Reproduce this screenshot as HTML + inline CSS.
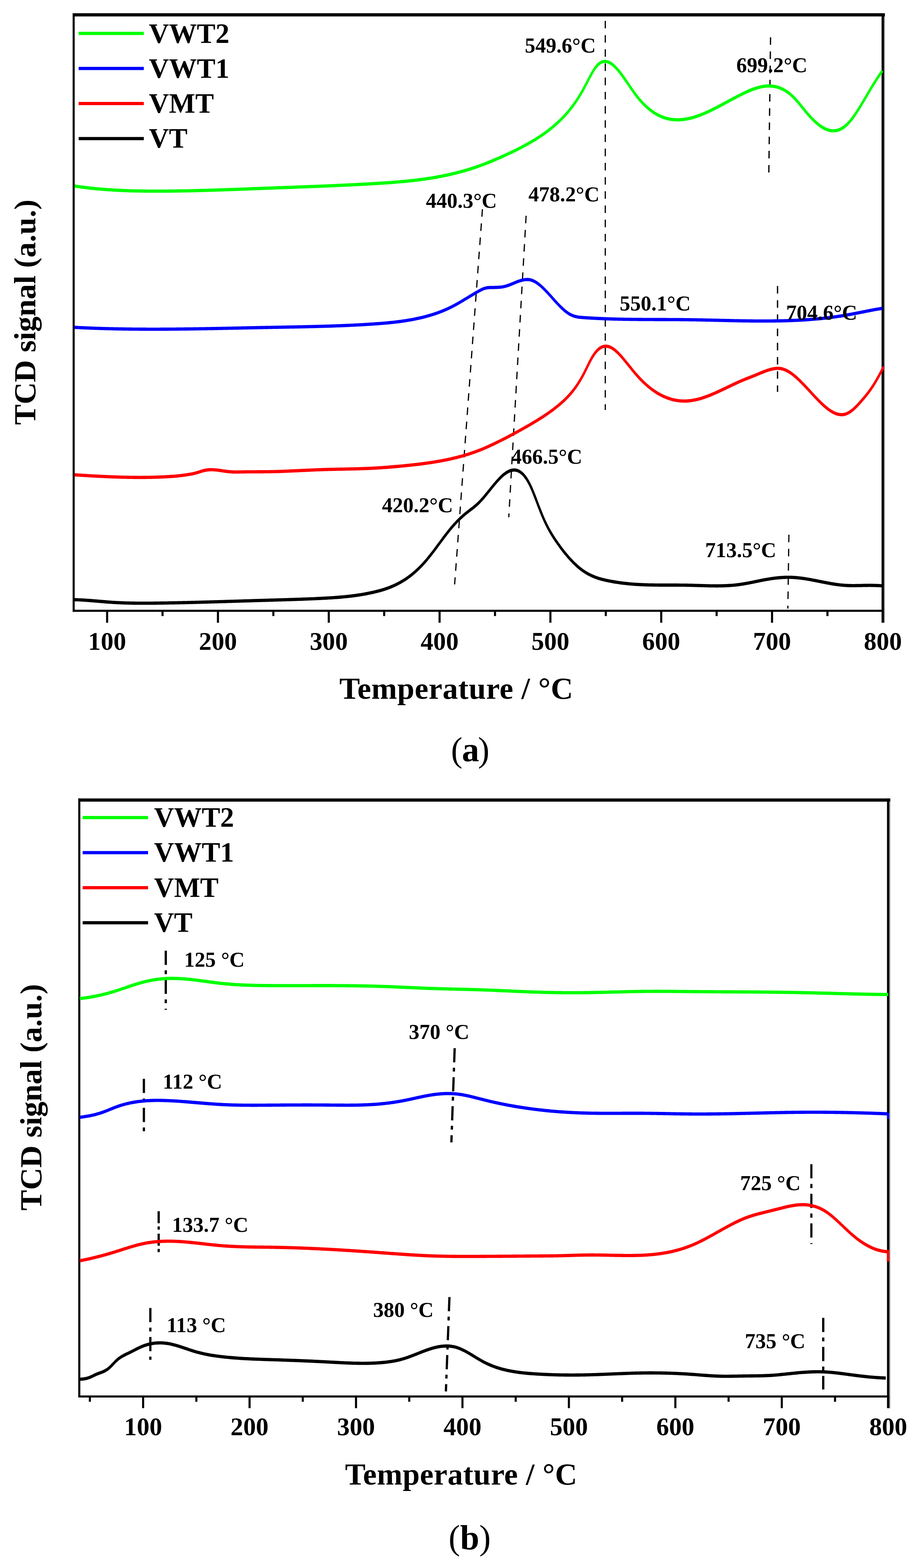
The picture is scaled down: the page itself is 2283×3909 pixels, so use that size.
<!DOCTYPE html>
<html><head><meta charset="utf-8"><title>TPR profiles</title>
<style>html,body{margin:0;padding:0;background:#fff;overflow:hidden;}svg{display:block;}</style>
</head><body>
<svg width="2283" height="3909" viewBox="0 0 2283 3909">
<rect x="0" y="0" width="2283" height="3909" fill="#fff"/>
<rect x="181" y="33" width="2024.5" height="8" fill="#000"/>
<rect x="181" y="33" width="5.2" height="1492.3" fill="#000"/>
<rect x="181" y="1520.1" width="2022" height="5.2" fill="#000"/>
<rect x="2197.2" y="33" width="5.8" height="1492.3" fill="#000"/>
<rect x="2203" y="41" width="2.3" height="1511.3" fill="#8a8a8a"/>
<rect x="264.4" y="1525" width="5.2" height="27.5" fill="#000"/>
<rect x="540.6" y="1525" width="5.2" height="27.5" fill="#000"/>
<rect x="816.8" y="1525" width="5.2" height="27.5" fill="#000"/>
<rect x="1093.0" y="1525" width="5.2" height="27.5" fill="#000"/>
<rect x="1369.2" y="1525" width="5.2" height="27.5" fill="#000"/>
<rect x="1645.4" y="1525" width="5.2" height="27.5" fill="#000"/>
<rect x="1921.6" y="1525" width="5.2" height="27.5" fill="#000"/>
<rect x="402.5" y="1525" width="5.2" height="10.8" fill="#000"/>
<rect x="678.7" y="1525" width="5.2" height="10.8" fill="#000"/>
<rect x="954.9" y="1525" width="5.2" height="10.8" fill="#000"/>
<rect x="1231.1" y="1525" width="5.2" height="10.8" fill="#000"/>
<rect x="1507.3" y="1525" width="5.2" height="10.8" fill="#000"/>
<rect x="1783.5" y="1525" width="5.2" height="10.8" fill="#000"/>
<rect x="2059.7" y="1525" width="5.2" height="10.8" fill="#000"/>
<rect x="2197.2" y="1520" width="5.8" height="32.5" fill="#000"/>
<text x="267.0" y="1620.2" font-size="63.2" font-family="Liberation Serif, Times New Roman, serif" font-weight="bold" text-anchor="middle">100</text>
<text x="543.2" y="1620.2" font-size="63.2" font-family="Liberation Serif, Times New Roman, serif" font-weight="bold" text-anchor="middle">200</text>
<text x="819.4" y="1620.2" font-size="63.2" font-family="Liberation Serif, Times New Roman, serif" font-weight="bold" text-anchor="middle">300</text>
<text x="1095.6" y="1620.2" font-size="63.2" font-family="Liberation Serif, Times New Roman, serif" font-weight="bold" text-anchor="middle">400</text>
<text x="1371.8" y="1620.2" font-size="63.2" font-family="Liberation Serif, Times New Roman, serif" font-weight="bold" text-anchor="middle">500</text>
<text x="1648.0" y="1620.2" font-size="63.2" font-family="Liberation Serif, Times New Roman, serif" font-weight="bold" text-anchor="middle">600</text>
<text x="1924.2" y="1620.2" font-size="63.2" font-family="Liberation Serif, Times New Roman, serif" font-weight="bold" text-anchor="middle">700</text>
<text x="2200.4" y="1620.2" font-size="63.2" font-family="Liberation Serif, Times New Roman, serif" font-weight="bold" text-anchor="middle">800</text>
<line x1="1508.6" y1="52" x2="1508.6" y2="1022" stroke="#000" stroke-width="3" stroke-dasharray="18.8 16.6" stroke-dashoffset="0"/>
<line x1="1920.5" y1="92.9" x2="1916.2" y2="430" stroke="#000" stroke-width="3.2" stroke-dasharray="18.8 16.6" stroke-dashoffset="0"/>
<line x1="1202.4" y1="521.5" x2="1133.1" y2="1457" stroke="#000" stroke-width="3" stroke-dasharray="18.8 16.6" stroke-dashoffset="0"/>
<line x1="1311.3" y1="537.8" x2="1268" y2="1289.5" stroke="#000" stroke-width="3" stroke-dasharray="18.8 16.6" stroke-dashoffset="0"/>
<line x1="1937.9" y1="713" x2="1937.9" y2="977" stroke="#000" stroke-width="3.2" stroke-dasharray="18.8 16.6" stroke-dashoffset="0"/>
<line x1="1966.2" y1="1332.9" x2="1963.6" y2="1517.3" stroke="#000" stroke-width="3" stroke-dasharray="18.8 16.6" stroke-dashoffset="0"/>
<path transform="scale(1,1.5)" d="M185.6,996.71 L188.6,996.75 L191.6,996.81 L194.6,996.88 L197.6,996.96 L200.6,997.05 L203.6,997.16 L206.6,997.27 L209.6,997.39 L212.6,997.51 L215.6,997.65 L218.6,997.79 L221.6,997.94 L224.6,998.09 L227.6,998.25 L230.6,998.41 L233.6,998.57 L236.6,998.74 L239.6,998.91 L242.6,999.08 L245.6,999.25 L248.6,999.42 L251.6,999.60 L254.6,999.77 L257.6,999.93 L260.6,1000.10 L263.6,1000.26 L266.6,1000.42 L269.6,1000.57 L272.6,1000.72 L275.6,1000.86 L278.6,1000.99 L281.6,1001.12 L284.6,1001.24 L287.6,1001.36 L290.6,1001.47 L293.6,1001.57 L296.6,1001.67 L299.6,1001.76 L302.6,1001.84 L305.6,1001.92 L308.6,1002.00 L311.6,1002.06 L314.6,1002.13 L317.6,1002.19 L320.6,1002.24 L323.6,1002.29 L326.6,1002.33 L329.6,1002.37 L332.6,1002.40 L335.6,1002.43 L338.6,1002.46 L341.6,1002.48 L344.6,1002.50 L347.6,1002.51 L350.6,1002.52 L353.6,1002.53 L356.6,1002.53 L359.6,1002.54 L362.6,1002.53 L365.6,1002.53 L368.6,1002.52 L371.6,1002.51 L374.6,1002.49 L377.6,1002.48 L380.6,1002.46 L383.6,1002.44 L386.6,1002.42 L389.6,1002.40 L392.6,1002.37 L395.6,1002.34 L398.6,1002.31 L401.6,1002.28 L404.6,1002.25 L407.6,1002.22 L410.6,1002.19 L413.6,1002.15 L416.6,1002.12 L419.6,1002.08 L422.6,1002.05 L425.6,1002.01 L428.6,1001.97 L431.6,1001.94 L434.6,1001.90 L437.6,1001.86 L440.6,1001.82 L443.6,1001.77 L446.6,1001.73 L449.6,1001.69 L452.6,1001.65 L455.6,1001.60 L458.6,1001.56 L461.6,1001.51 L464.6,1001.46 L467.6,1001.42 L470.6,1001.37 L473.6,1001.32 L476.6,1001.27 L479.6,1001.22 L482.6,1001.17 L485.6,1001.12 L488.6,1001.07 L491.6,1001.02 L494.6,1000.97 L497.6,1000.92 L500.6,1000.87 L503.6,1000.81 L506.6,1000.76 L509.6,1000.70 L512.6,1000.65 L515.6,1000.60 L518.6,1000.54 L521.6,1000.48 L524.6,1000.43 L527.6,1000.37 L530.6,1000.32 L533.6,1000.26 L536.6,1000.20 L539.6,1000.14 L542.6,1000.08 L545.6,1000.03 L548.6,999.97 L551.6,999.91 L554.6,999.85 L557.6,999.79 L560.6,999.73 L563.6,999.67 L566.6,999.61 L569.6,999.55 L572.6,999.49 L575.6,999.43 L578.6,999.37 L581.6,999.31 L584.6,999.25 L587.6,999.19 L590.6,999.13 L593.6,999.07 L596.6,999.01 L599.6,998.95 L602.6,998.88 L605.6,998.82 L608.6,998.76 L611.6,998.70 L614.6,998.64 L617.6,998.58 L620.6,998.52 L623.6,998.46 L626.6,998.40 L629.6,998.34 L632.6,998.28 L635.6,998.21 L638.6,998.15 L641.6,998.09 L644.6,998.03 L647.6,997.97 L650.6,997.91 L653.6,997.85 L656.6,997.80 L659.6,997.74 L662.6,997.68 L665.6,997.62 L668.6,997.56 L671.6,997.50 L674.6,997.44 L677.6,997.39 L680.6,997.33 L683.6,997.27 L686.6,997.21 L689.6,997.16 L692.6,997.10 L695.6,997.04 L698.6,996.98 L701.6,996.92 L704.6,996.87 L707.6,996.81 L710.6,996.75 L713.6,996.69 L716.6,996.63 L719.6,996.56 L722.6,996.50 L725.6,996.44 L728.6,996.38 L731.6,996.31 L734.6,996.25 L737.6,996.18 L740.6,996.11 L743.6,996.05 L746.6,995.98 L749.6,995.91 L752.6,995.83 L755.6,995.76 L758.6,995.69 L761.6,995.61 L764.6,995.53 L767.6,995.46 L770.6,995.38 L773.6,995.29 L776.6,995.21 L779.6,995.13 L782.6,995.04 L785.6,994.95 L788.6,994.86 L791.6,994.77 L794.6,994.67 L797.6,994.57 L800.6,994.48 L803.6,994.38 L806.6,994.27 L809.6,994.17 L812.6,994.06 L815.6,993.94 L818.6,993.83 L821.6,993.71 L824.6,993.58 L827.6,993.45 L830.6,993.32 L833.6,993.18 L836.6,993.04 L839.6,992.89 L842.6,992.73 L845.6,992.57 L848.6,992.40 L851.6,992.23 L854.6,992.05 L857.6,991.86 L860.6,991.66 L863.6,991.46 L866.6,991.25 L869.6,991.03 L872.6,990.80 L875.6,990.56 L878.6,990.31 L881.6,990.06 L884.6,989.79 L887.6,989.52 L890.6,989.23 L893.6,988.93 L896.6,988.63 L899.6,988.31 L902.6,987.98 L905.6,987.64 L908.6,987.28 L911.6,986.92 L914.6,986.54 L917.6,986.15 L920.6,985.74 L923.6,985.33 L926.6,984.90 L929.6,984.45 L932.6,983.99 L935.6,983.52 L938.6,983.03 L941.6,982.52 L944.6,981.99 L947.6,981.45 L950.6,980.87 L953.6,980.28 L956.6,979.66 L959.6,979.02 L962.6,978.34 L965.6,977.64 L968.6,976.91 L971.6,976.14 L974.6,975.34 L977.6,974.51 L980.6,973.64 L983.6,972.73 L986.6,971.79 L989.6,970.80 L992.6,969.77 L995.6,968.70 L998.6,967.59 L1001.6,966.43 L1004.6,965.22 L1007.6,963.96 L1010.6,962.66 L1013.6,961.30 L1016.6,959.89 L1019.6,958.44 L1022.6,956.92 L1025.6,955.36 L1028.6,953.74 L1031.6,952.06 L1034.6,950.32 L1037.6,948.53 L1040.6,946.68 L1043.6,944.76 L1046.6,942.78 L1049.6,940.75 L1052.6,938.64 L1055.6,936.47 L1058.6,934.24 L1061.6,931.94 L1064.6,929.57 L1067.6,927.14 L1070.6,924.65 L1073.6,922.12 L1076.6,919.54 L1079.6,916.92 L1082.6,914.28 L1085.6,911.61 L1088.6,908.92 L1091.6,906.22 L1094.6,903.51 L1097.6,900.80 L1100.6,898.10 L1103.6,895.42 L1106.6,892.75 L1109.6,890.11 L1112.6,887.50 L1115.6,884.92 L1118.6,882.39 L1121.6,879.92 L1124.6,877.49 L1127.6,875.13 L1130.6,872.84 L1133.6,870.62 L1136.6,868.46 L1139.6,866.36 L1142.6,864.33 L1145.6,862.37 L1148.6,860.47 L1151.6,858.63 L1154.6,856.85 L1157.6,855.14 L1160.6,853.49 L1163.6,851.90 L1166.6,850.35 L1169.6,848.82 L1172.6,847.29 L1175.6,845.76 L1178.6,844.19 L1181.6,842.59 L1184.6,840.92 L1187.6,839.18 L1190.6,837.34 L1193.6,835.39 L1196.6,833.33 L1199.6,831.18 L1202.6,828.94 L1205.6,826.63 L1208.6,824.27 L1211.6,821.85 L1214.6,819.40 L1217.6,816.93 L1220.6,814.44 L1223.6,811.96 L1226.6,809.49 L1229.6,807.05 L1232.6,804.64 L1235.6,802.28 L1238.6,799.99 L1241.6,797.77 L1244.6,795.64 L1247.6,793.60 L1250.6,791.68 L1253.6,789.88 L1256.6,788.22 L1259.6,786.70 L1262.6,785.34 L1265.6,784.16 L1268.6,783.15 L1271.6,782.33 L1274.6,781.72 L1277.6,781.32 L1280.6,781.14 L1283.6,781.20 L1286.6,781.51 L1289.6,782.07 L1292.6,782.90 L1295.6,784.00 L1298.6,785.40 L1301.6,787.10 L1304.6,789.10 L1307.6,791.43 L1310.6,794.09 L1313.6,797.10 L1316.6,800.46 L1319.6,804.18 L1322.6,808.28 L1325.6,812.75 L1328.6,817.54 L1331.6,822.56 L1334.6,827.73 L1337.6,833.00 L1340.6,838.27 L1343.6,843.48 L1346.6,848.61 L1349.6,853.60 L1352.6,858.43 L1355.6,863.05 L1358.6,867.44 L1361.6,871.61 L1364.6,875.57 L1367.6,879.34 L1370.6,882.93 L1373.6,886.37 L1376.6,889.66 L1379.6,892.84 L1382.6,895.90 L1385.6,898.87 L1388.6,901.77 L1391.6,904.61 L1394.6,907.39 L1397.6,910.11 L1400.6,912.78 L1403.6,915.38 L1406.6,917.91 L1409.6,920.39 L1412.6,922.80 L1415.6,925.14 L1418.6,927.42 L1421.6,929.64 L1424.6,931.78 L1427.6,933.86 L1430.6,935.86 L1433.6,937.79 L1436.6,939.66 L1439.6,941.44 L1442.6,943.16 L1445.6,944.80 L1448.6,946.36 L1451.6,947.85 L1454.6,949.26 L1457.6,950.59 L1460.6,951.84 L1463.6,953.03 L1466.6,954.14 L1469.6,955.19 L1472.6,956.18 L1475.6,957.11 L1478.6,957.98 L1481.6,958.79 L1484.6,959.56 L1487.6,960.28 L1490.6,960.95 L1493.6,961.58 L1496.6,962.17 L1499.6,962.73 L1502.6,963.25 L1505.6,963.74 L1508.6,964.20 L1511.6,964.64 L1514.6,965.06 L1517.6,965.46 L1520.6,965.85 L1523.6,966.22 L1526.6,966.58 L1529.6,966.92 L1532.6,967.25 L1535.6,967.57 L1538.6,967.88 L1541.6,968.18 L1544.6,968.46 L1547.6,968.73 L1550.6,968.99 L1553.6,969.24 L1556.6,969.48 L1559.6,969.70 L1562.6,969.91 L1565.6,970.12 L1568.6,970.31 L1571.6,970.49 L1574.6,970.66 L1577.6,970.83 L1580.6,970.98 L1583.6,971.12 L1586.6,971.25 L1589.6,971.38 L1592.6,971.49 L1595.6,971.60 L1598.6,971.69 L1601.6,971.78 L1604.6,971.86 L1607.6,971.94 L1610.6,972.01 L1613.6,972.07 L1616.6,972.12 L1619.6,972.17 L1622.6,972.21 L1625.6,972.25 L1628.6,972.28 L1631.6,972.31 L1634.6,972.34 L1637.6,972.36 L1640.6,972.37 L1643.6,972.39 L1646.6,972.40 L1649.6,972.41 L1652.6,972.41 L1655.6,972.42 L1658.6,972.42 L1661.6,972.42 L1664.6,972.42 L1667.6,972.42 L1670.6,972.42 L1673.6,972.42 L1676.6,972.42 L1679.6,972.42 L1682.6,972.43 L1685.6,972.43 L1688.6,972.44 L1691.6,972.44 L1694.6,972.46 L1697.6,972.47 L1700.6,972.49 L1703.6,972.51 L1706.6,972.53 L1709.6,972.56 L1712.6,972.59 L1715.6,972.63 L1718.6,972.68 L1721.6,972.72 L1724.6,972.78 L1727.6,972.83 L1730.6,972.89 L1733.6,972.95 L1736.6,973.01 L1739.6,973.07 L1742.6,973.13 L1745.6,973.20 L1748.6,973.26 L1751.6,973.32 L1754.6,973.38 L1757.6,973.43 L1760.6,973.48 L1763.6,973.53 L1766.6,973.58 L1769.6,973.62 L1772.6,973.65 L1775.6,973.68 L1778.6,973.70 L1781.6,973.71 L1784.6,973.72 L1787.6,973.72 L1790.6,973.71 L1793.6,973.69 L1796.6,973.66 L1799.6,973.61 L1802.6,973.56 L1805.6,973.50 L1808.6,973.42 L1811.6,973.33 L1814.6,973.23 L1817.6,973.11 L1820.6,972.98 L1823.6,972.83 L1826.6,972.67 L1829.6,972.49 L1832.6,972.29 L1835.6,972.08 L1838.6,971.85 L1841.6,971.60 L1844.6,971.33 L1847.6,971.04 L1850.6,970.73 L1853.6,970.40 L1856.6,970.06 L1859.6,969.70 L1862.6,969.33 L1865.6,968.95 L1868.6,968.56 L1871.6,968.16 L1874.6,967.76 L1877.6,967.35 L1880.6,966.93 L1883.6,966.52 L1886.6,966.10 L1889.6,965.69 L1892.6,965.28 L1895.6,964.87 L1898.6,964.47 L1901.6,964.08 L1904.6,963.70 L1907.6,963.32 L1910.6,962.96 L1913.6,962.62 L1916.6,962.29 L1919.6,961.97 L1922.6,961.67 L1925.6,961.39 L1928.6,961.12 L1931.6,960.88 L1934.6,960.65 L1937.6,960.44 L1940.6,960.25 L1943.6,960.08 L1946.6,959.93 L1949.6,959.80 L1952.6,959.69 L1955.6,959.61 L1958.6,959.54 L1961.6,959.50 L1964.6,959.49 L1967.6,959.50 L1970.6,959.54 L1973.6,959.60 L1976.6,959.69 L1979.6,959.80 L1982.6,959.94 L1985.6,960.11 L1988.6,960.29 L1991.6,960.50 L1994.6,960.73 L1997.6,960.99 L2000.6,961.25 L2003.6,961.54 L2006.6,961.84 L2009.6,962.16 L2012.6,962.49 L2015.6,962.83 L2018.6,963.19 L2021.6,963.55 L2024.6,963.93 L2027.6,964.31 L2030.6,964.69 L2033.6,965.09 L2036.6,965.48 L2039.6,965.88 L2042.6,966.28 L2045.6,966.68 L2048.6,967.08 L2051.6,967.48 L2054.6,967.87 L2057.6,968.26 L2060.6,968.64 L2063.6,969.02 L2066.6,969.39 L2069.6,969.75 L2072.6,970.10 L2075.6,970.43 L2078.6,970.76 L2081.6,971.07 L2084.6,971.36 L2087.6,971.64 L2090.6,971.89 L2093.6,972.13 L2096.6,972.35 L2099.6,972.55 L2102.6,972.73 L2105.6,972.88 L2108.6,973.00 L2111.6,973.10 L2114.6,973.18 L2117.6,973.24 L2120.6,973.27 L2123.6,973.29 L2126.6,973.30 L2129.6,973.29 L2132.6,973.27 L2135.6,973.24 L2138.6,973.20 L2141.6,973.16 L2144.6,973.12 L2147.6,973.07 L2150.6,973.02 L2153.6,972.98 L2156.6,972.94 L2159.6,972.91 L2162.6,972.89 L2165.6,972.88 L2168.6,972.88 L2171.6,972.90 L2174.6,972.93 L2177.6,972.98 L2180.6,973.04 L2183.6,973.11 L2186.6,973.19 L2189.6,973.28 L2192.6,973.36 L2195.6,973.45 L2197.8,973.51" fill="none" stroke="#000" stroke-width="5.4" stroke-linejoin="round" stroke-linecap="butt"/>
<path transform="scale(1,1.5)" d="M185.6,789.15 L188.6,789.28 L191.6,789.40 L194.6,789.53 L197.6,789.65 L200.6,789.78 L203.6,789.90 L206.6,790.02 L209.6,790.14 L212.6,790.26 L215.6,790.38 L218.6,790.50 L221.6,790.62 L224.6,790.73 L227.6,790.84 L230.6,790.96 L233.6,791.07 L236.6,791.17 L239.6,791.28 L242.6,791.39 L245.6,791.49 L248.6,791.59 L251.6,791.69 L254.6,791.79 L257.6,791.88 L260.6,791.97 L263.6,792.07 L266.6,792.15 L269.6,792.24 L272.6,792.32 L275.6,792.40 L278.6,792.48 L281.6,792.56 L284.6,792.63 L287.6,792.70 L290.6,792.77 L293.6,792.84 L296.6,792.90 L299.6,792.96 L302.6,793.01 L305.6,793.07 L308.6,793.12 L311.6,793.16 L314.6,793.21 L317.6,793.25 L320.6,793.28 L323.6,793.32 L326.6,793.35 L329.6,793.37 L332.6,793.40 L335.6,793.41 L338.6,793.43 L341.6,793.44 L344.6,793.45 L347.6,793.45 L350.6,793.45 L353.6,793.44 L356.6,793.43 L359.6,793.42 L362.6,793.40 L365.6,793.38 L368.6,793.35 L371.6,793.32 L374.6,793.29 L377.6,793.25 L380.6,793.20 L383.6,793.15 L386.6,793.10 L389.6,793.04 L392.6,792.98 L395.6,792.91 L398.6,792.83 L401.6,792.75 L404.6,792.67 L407.6,792.58 L410.6,792.48 L413.6,792.38 L416.6,792.28 L419.6,792.16 L422.6,792.04 L425.6,791.91 L428.6,791.77 L431.6,791.62 L434.6,791.47 L437.6,791.30 L440.6,791.12 L443.6,790.92 L446.6,790.72 L449.6,790.50 L452.6,790.27 L455.6,790.02 L458.6,789.76 L461.6,789.48 L464.6,789.19 L467.6,788.88 L470.6,788.55 L473.6,788.20 L476.6,787.84 L479.6,787.45 L482.6,787.02 L485.6,786.56 L488.6,786.05 L491.6,785.48 L494.6,784.85 L497.6,784.19 L500.6,783.53 L503.6,782.89 L506.6,782.31 L509.6,781.82 L512.6,781.42 L515.6,781.12 L518.6,780.89 L521.6,780.75 L524.6,780.67 L527.6,780.66 L530.6,780.71 L533.6,780.82 L536.6,780.97 L539.6,781.16 L542.6,781.39 L545.6,781.65 L548.6,781.92 L551.6,782.22 L554.6,782.51 L557.6,782.81 L560.6,783.10 L563.6,783.38 L566.6,783.64 L569.6,783.86 L572.6,784.05 L575.6,784.20 L578.6,784.31 L581.6,784.39 L584.6,784.44 L587.6,784.46 L590.6,784.46 L593.6,784.44 L596.6,784.42 L599.6,784.38 L602.6,784.34 L605.6,784.30 L608.6,784.27 L611.6,784.24 L614.6,784.21 L617.6,784.19 L620.6,784.18 L623.6,784.16 L626.6,784.15 L629.6,784.14 L632.6,784.13 L635.6,784.13 L638.6,784.12 L641.6,784.11 L644.6,784.11 L647.6,784.10 L650.6,784.09 L653.6,784.08 L656.6,784.07 L659.6,784.05 L662.6,784.04 L665.6,784.01 L668.6,783.99 L671.6,783.96 L674.6,783.92 L677.6,783.88 L680.6,783.84 L683.6,783.79 L686.6,783.74 L689.6,783.68 L692.6,783.62 L695.6,783.56 L698.6,783.50 L701.6,783.43 L704.6,783.35 L707.6,783.28 L710.6,783.20 L713.6,783.12 L716.6,783.04 L719.6,782.95 L722.6,782.87 L725.6,782.78 L728.6,782.69 L731.6,782.60 L734.6,782.51 L737.6,782.42 L740.6,782.32 L743.6,782.23 L746.6,782.13 L749.6,782.04 L752.6,781.94 L755.6,781.85 L758.6,781.76 L761.6,781.66 L764.6,781.57 L767.6,781.48 L770.6,781.39 L773.6,781.30 L776.6,781.21 L779.6,781.12 L782.6,781.04 L785.6,780.95 L788.6,780.87 L791.6,780.79 L794.6,780.72 L797.6,780.65 L800.6,780.58 L803.6,780.51 L806.6,780.44 L809.6,780.38 L812.6,780.32 L815.6,780.27 L818.6,780.21 L821.6,780.16 L824.6,780.11 L827.6,780.06 L830.6,780.02 L833.6,779.97 L836.6,779.93 L839.6,779.88 L842.6,779.84 L845.6,779.80 L848.6,779.76 L851.6,779.72 L854.6,779.68 L857.6,779.63 L860.6,779.59 L863.6,779.55 L866.6,779.51 L869.6,779.46 L872.6,779.42 L875.6,779.37 L878.6,779.33 L881.6,779.28 L884.6,779.23 L887.6,779.18 L890.6,779.12 L893.6,779.06 L896.6,779.00 L899.6,778.94 L902.6,778.88 L905.6,778.81 L908.6,778.74 L911.6,778.66 L914.6,778.58 L917.6,778.50 L920.6,778.42 L923.6,778.33 L926.6,778.23 L929.6,778.13 L932.6,778.03 L935.6,777.92 L938.6,777.81 L941.6,777.69 L944.6,777.56 L947.6,777.44 L950.6,777.31 L953.6,777.17 L956.6,777.03 L959.6,776.89 L962.6,776.74 L965.6,776.59 L968.6,776.43 L971.6,776.27 L974.6,776.11 L977.6,775.94 L980.6,775.77 L983.6,775.60 L986.6,775.42 L989.6,775.24 L992.6,775.06 L995.6,774.88 L998.6,774.69 L1001.6,774.50 L1004.6,774.31 L1007.6,774.11 L1010.6,773.91 L1013.6,773.71 L1016.6,773.51 L1019.6,773.30 L1022.6,773.09 L1025.6,772.87 L1028.6,772.65 L1031.6,772.43 L1034.6,772.20 L1037.6,771.96 L1040.6,771.73 L1043.6,771.49 L1046.6,771.24 L1049.6,770.99 L1052.6,770.73 L1055.6,770.47 L1058.6,770.20 L1061.6,769.93 L1064.6,769.65 L1067.6,769.36 L1070.6,769.07 L1073.6,768.78 L1076.6,768.47 L1079.6,768.16 L1082.6,767.84 L1085.6,767.52 L1088.6,767.19 L1091.6,766.84 L1094.6,766.50 L1097.6,766.14 L1100.6,765.77 L1103.6,765.40 L1106.6,765.01 L1109.6,764.62 L1112.6,764.21 L1115.6,763.80 L1118.6,763.37 L1121.6,762.94 L1124.6,762.49 L1127.6,762.03 L1130.6,761.56 L1133.6,761.08 L1136.6,760.59 L1139.6,760.09 L1142.6,759.57 L1145.6,759.04 L1148.6,758.50 L1151.6,757.94 L1154.6,757.37 L1157.6,756.79 L1160.6,756.19 L1163.6,755.58 L1166.6,754.95 L1169.6,754.31 L1172.6,753.66 L1175.6,752.99 L1178.6,752.30 L1181.6,751.60 L1184.6,750.88 L1187.6,750.14 L1190.6,749.39 L1193.6,748.62 L1196.6,747.84 L1199.6,747.03 L1202.6,746.21 L1205.6,745.38 L1208.6,744.53 L1211.6,743.66 L1214.6,742.78 L1217.6,741.89 L1220.6,740.98 L1223.6,740.07 L1226.6,739.13 L1229.6,738.19 L1232.6,737.24 L1235.6,736.27 L1238.6,735.30 L1241.6,734.31 L1244.6,733.32 L1247.6,732.32 L1250.6,731.31 L1253.6,730.29 L1256.6,729.26 L1259.6,728.23 L1262.6,727.20 L1265.6,726.15 L1268.6,725.10 L1271.6,724.05 L1274.6,722.99 L1277.6,721.92 L1280.6,720.85 L1283.6,719.77 L1286.6,718.68 L1289.6,717.59 L1292.6,716.49 L1295.6,715.38 L1298.6,714.27 L1301.6,713.15 L1304.6,712.02 L1307.6,710.88 L1310.6,709.74 L1313.6,708.59 L1316.6,707.44 L1319.6,706.27 L1322.6,705.10 L1325.6,703.92 L1328.6,702.74 L1331.6,701.54 L1334.6,700.33 L1337.6,699.11 L1340.6,697.88 L1343.6,696.64 L1346.6,695.38 L1349.6,694.10 L1352.6,692.81 L1355.6,691.50 L1358.6,690.17 L1361.6,688.82 L1364.6,687.44 L1367.6,686.04 L1370.6,684.62 L1373.6,683.17 L1376.6,681.70 L1379.6,680.19 L1382.6,678.66 L1385.6,677.09 L1388.6,675.50 L1391.6,673.87 L1394.6,672.20 L1397.6,670.50 L1400.6,668.74 L1403.6,666.94 L1406.6,665.07 L1409.6,663.14 L1412.6,661.13 L1415.6,659.04 L1418.6,656.87 L1421.6,654.60 L1424.6,652.24 L1427.6,649.76 L1430.6,647.18 L1433.6,644.47 L1436.6,641.64 L1439.6,638.68 L1442.6,635.58 L1445.6,632.33 L1448.6,628.94 L1451.6,625.38 L1454.6,621.66 L1457.6,617.77 L1460.6,613.73 L1463.6,609.63 L1466.6,605.55 L1469.6,601.56 L1472.6,597.77 L1475.6,594.23 L1478.6,590.99 L1481.6,588.05 L1484.6,585.42 L1487.6,583.10 L1490.6,581.10 L1493.6,579.41 L1496.6,578.03 L1499.6,576.95 L1502.6,576.15 L1505.6,575.64 L1508.6,575.39 L1511.6,575.40 L1514.6,575.67 L1517.6,576.17 L1520.6,576.90 L1523.6,577.86 L1526.6,579.03 L1529.6,580.39 L1532.6,581.93 L1535.6,583.64 L1538.6,585.49 L1541.6,587.47 L1544.6,589.56 L1547.6,591.76 L1550.6,594.03 L1553.6,596.38 L1556.6,598.78 L1559.6,601.21 L1562.6,603.67 L1565.6,606.15 L1568.6,608.63 L1571.6,611.12 L1574.6,613.59 L1577.6,616.03 L1580.6,618.45 L1583.6,620.82 L1586.6,623.14 L1589.6,625.40 L1592.6,627.59 L1595.6,629.72 L1598.6,631.78 L1601.6,633.78 L1604.6,635.72 L1607.6,637.59 L1610.6,639.40 L1613.6,641.15 L1616.6,642.84 L1619.6,644.46 L1622.6,646.02 L1625.6,647.52 L1628.6,648.96 L1631.6,650.34 L1634.6,651.67 L1637.6,652.93 L1640.6,654.13 L1643.6,655.27 L1646.6,656.36 L1649.6,657.39 L1652.6,658.36 L1655.6,659.28 L1658.6,660.13 L1661.6,660.94 L1664.6,661.68 L1667.6,662.37 L1670.6,663.01 L1673.6,663.59 L1676.6,664.12 L1679.6,664.59 L1682.6,665.02 L1685.6,665.38 L1688.6,665.70 L1691.6,665.96 L1694.6,666.18 L1697.6,666.34 L1700.6,666.45 L1703.6,666.51 L1706.6,666.52 L1709.6,666.48 L1712.6,666.39 L1715.6,666.25 L1718.6,666.07 L1721.6,665.83 L1724.6,665.55 L1727.6,665.23 L1730.6,664.86 L1733.6,664.45 L1736.6,664.00 L1739.6,663.51 L1742.6,662.98 L1745.6,662.42 L1748.6,661.82 L1751.6,661.20 L1754.6,660.53 L1757.6,659.84 L1760.6,659.13 L1763.6,658.38 L1766.6,657.61 L1769.6,656.82 L1772.6,656.00 L1775.6,655.17 L1778.6,654.31 L1781.6,653.44 L1784.6,652.55 L1787.6,651.65 L1790.6,650.74 L1793.6,649.81 L1796.6,648.88 L1799.6,647.93 L1802.6,646.98 L1805.6,646.02 L1808.6,645.07 L1811.6,644.10 L1814.6,643.14 L1817.6,642.18 L1820.6,641.22 L1823.6,640.27 L1826.6,639.32 L1829.6,638.38 L1832.6,637.44 L1835.6,636.52 L1838.6,635.61 L1841.6,634.71 L1844.6,633.82 L1847.6,632.96 L1850.6,632.11 L1853.6,631.27 L1856.6,630.46 L1859.6,629.65 L1862.6,628.85 L1865.6,628.06 L1868.6,627.28 L1871.6,626.49 L1874.6,625.70 L1877.6,624.90 L1880.6,624.09 L1883.6,623.28 L1886.6,622.45 L1889.6,621.61 L1892.6,620.78 L1895.6,619.95 L1898.6,619.12 L1901.6,618.32 L1904.6,617.54 L1907.6,616.78 L1910.6,616.06 L1913.6,615.37 L1916.6,614.73 L1919.6,614.14 L1922.6,613.61 L1925.6,613.15 L1928.6,612.77 L1931.6,612.47 L1934.6,612.28 L1937.6,612.19 L1940.6,612.21 L1943.6,612.37 L1946.6,612.65 L1949.6,613.08 L1952.6,613.66 L1955.6,614.38 L1958.6,615.24 L1961.6,616.22 L1964.6,617.32 L1967.6,618.54 L1970.6,619.86 L1973.6,621.29 L1976.6,622.81 L1979.6,624.41 L1982.6,626.09 L1985.6,627.85 L1988.6,629.68 L1991.6,631.56 L1994.6,633.50 L1997.6,635.50 L2000.6,637.53 L2003.6,639.60 L2006.6,641.71 L2009.6,643.84 L2012.6,645.99 L2015.6,648.16 L2018.6,650.33 L2021.6,652.50 L2024.6,654.67 L2027.6,656.83 L2030.6,658.98 L2033.6,661.10 L2036.6,663.19 L2039.6,665.26 L2042.6,667.28 L2045.6,669.25 L2048.6,671.18 L2051.6,673.04 L2054.6,674.84 L2057.6,676.57 L2060.6,678.22 L2063.6,679.78 L2066.6,681.24 L2069.6,682.61 L2072.6,683.86 L2075.6,685.01 L2078.6,686.02 L2081.6,686.91 L2084.6,687.67 L2087.6,688.27 L2090.6,688.73 L2093.6,689.03 L2096.6,689.16 L2099.6,689.13 L2102.6,688.91 L2105.6,688.50 L2108.6,687.90 L2111.6,687.10 L2114.6,686.10 L2117.6,684.90 L2120.6,683.53 L2123.6,681.99 L2126.6,680.31 L2129.6,678.51 L2132.6,676.59 L2135.6,674.57 L2138.6,672.47 L2141.6,670.30 L2144.6,668.09 L2147.6,665.84 L2150.6,663.54 L2153.6,661.19 L2156.6,658.79 L2159.6,656.30 L2162.6,653.74 L2165.6,651.09 L2168.6,648.34 L2171.6,645.49 L2174.6,642.51 L2177.6,639.41 L2180.6,636.17 L2183.6,632.81 L2186.6,629.33 L2189.6,625.74 L2192.6,622.05 L2195.6,618.27 L2198.6,614.40 L2201.6,610.46 L2202.2,609.67" fill="none" stroke="#f00" stroke-width="5.4" stroke-linejoin="round" stroke-linecap="butt"/>
<path transform="scale(1,1.5)" d="M185.6,544.08 L188.6,544.18 L191.6,544.28 L194.6,544.38 L197.6,544.48 L200.6,544.57 L203.6,544.67 L206.6,544.76 L209.6,544.85 L212.6,544.93 L215.6,545.02 L218.6,545.10 L221.6,545.18 L224.6,545.26 L227.6,545.34 L230.6,545.42 L233.6,545.49 L236.6,545.56 L239.6,545.63 L242.6,545.70 L245.6,545.77 L248.6,545.83 L251.6,545.90 L254.6,545.96 L257.6,546.02 L260.6,546.07 L263.6,546.13 L266.6,546.18 L269.6,546.24 L272.6,546.29 L275.6,546.34 L278.6,546.38 L281.6,546.43 L284.6,546.47 L287.6,546.52 L290.6,546.56 L293.6,546.60 L296.6,546.64 L299.6,546.67 L302.6,546.71 L305.6,546.74 L308.6,546.77 L311.6,546.80 L314.6,546.83 L317.6,546.86 L320.6,546.89 L323.6,546.91 L326.6,546.94 L329.6,546.96 L332.6,546.98 L335.6,547.00 L338.6,547.02 L341.6,547.03 L344.6,547.05 L347.6,547.06 L350.6,547.07 L353.6,547.09 L356.6,547.10 L359.6,547.10 L362.6,547.11 L365.6,547.12 L368.6,547.12 L371.6,547.13 L374.6,547.13 L377.6,547.13 L380.6,547.13 L383.6,547.13 L386.6,547.13 L389.6,547.13 L392.6,547.13 L395.6,547.12 L398.6,547.12 L401.6,547.11 L404.6,547.10 L407.6,547.09 L410.6,547.08 L413.6,547.07 L416.6,547.06 L419.6,547.05 L422.6,547.03 L425.6,547.02 L428.6,547.00 L431.6,546.99 L434.6,546.97 L437.6,546.95 L440.6,546.93 L443.6,546.91 L446.6,546.89 L449.6,546.87 L452.6,546.85 L455.6,546.83 L458.6,546.80 L461.6,546.78 L464.6,546.75 L467.6,546.73 L470.6,546.70 L473.6,546.68 L476.6,546.65 L479.6,546.62 L482.6,546.59 L485.6,546.56 L488.6,546.53 L491.6,546.50 L494.6,546.47 L497.6,546.44 L500.6,546.41 L503.6,546.37 L506.6,546.34 L509.6,546.30 L512.6,546.27 L515.6,546.24 L518.6,546.20 L521.6,546.16 L524.6,546.13 L527.6,546.09 L530.6,546.06 L533.6,546.02 L536.6,545.98 L539.6,545.94 L542.6,545.90 L545.6,545.87 L548.6,545.83 L551.6,545.79 L554.6,545.75 L557.6,545.71 L560.6,545.67 L563.6,545.63 L566.6,545.59 L569.6,545.55 L572.6,545.51 L575.6,545.47 L578.6,545.43 L581.6,545.38 L584.6,545.34 L587.6,545.30 L590.6,545.26 L593.6,545.22 L596.6,545.18 L599.6,545.14 L602.6,545.09 L605.6,545.05 L608.6,545.01 L611.6,544.97 L614.6,544.93 L617.6,544.89 L620.6,544.85 L623.6,544.80 L626.6,544.76 L629.6,544.72 L632.6,544.68 L635.6,544.64 L638.6,544.60 L641.6,544.56 L644.6,544.52 L647.6,544.48 L650.6,544.44 L653.6,544.40 L656.6,544.36 L659.6,544.32 L662.6,544.28 L665.6,544.24 L668.6,544.20 L671.6,544.17 L674.6,544.13 L677.6,544.09 L680.6,544.05 L683.6,544.02 L686.6,543.98 L689.6,543.94 L692.6,543.91 L695.6,543.87 L698.6,543.83 L701.6,543.80 L704.6,543.76 L707.6,543.73 L710.6,543.69 L713.6,543.65 L716.6,543.61 L719.6,543.58 L722.6,543.54 L725.6,543.50 L728.6,543.46 L731.6,543.43 L734.6,543.39 L737.6,543.35 L740.6,543.31 L743.6,543.27 L746.6,543.23 L749.6,543.19 L752.6,543.15 L755.6,543.10 L758.6,543.06 L761.6,543.02 L764.6,542.97 L767.6,542.93 L770.6,542.88 L773.6,542.84 L776.6,542.79 L779.6,542.74 L782.6,542.69 L785.6,542.64 L788.6,542.59 L791.6,542.54 L794.6,542.49 L797.6,542.43 L800.6,542.38 L803.6,542.32 L806.6,542.27 L809.6,542.21 L812.6,542.15 L815.6,542.09 L818.6,542.02 L821.6,541.96 L824.6,541.90 L827.6,541.83 L830.6,541.76 L833.6,541.69 L836.6,541.62 L839.6,541.55 L842.6,541.47 L845.6,541.40 L848.6,541.32 L851.6,541.24 L854.6,541.16 L857.6,541.08 L860.6,541.00 L863.6,540.91 L866.6,540.82 L869.6,540.73 L872.6,540.64 L875.6,540.55 L878.6,540.45 L881.6,540.36 L884.6,540.26 L887.6,540.16 L890.6,540.05 L893.6,539.95 L896.6,539.84 L899.6,539.73 L902.6,539.62 L905.6,539.50 L908.6,539.39 L911.6,539.27 L914.6,539.15 L917.6,539.02 L920.6,538.90 L923.6,538.77 L926.6,538.64 L929.6,538.50 L932.6,538.37 L935.6,538.23 L938.6,538.08 L941.6,537.94 L944.6,537.79 L947.6,537.64 L950.6,537.48 L953.6,537.32 L956.6,537.15 L959.6,536.98 L962.6,536.81 L965.6,536.62 L968.6,536.43 L971.6,536.24 L974.6,536.04 L977.6,535.83 L980.6,535.61 L983.6,535.39 L986.6,535.16 L989.6,534.92 L992.6,534.67 L995.6,534.42 L998.6,534.15 L1001.6,533.88 L1004.6,533.59 L1007.6,533.30 L1010.6,532.99 L1013.6,532.68 L1016.6,532.35 L1019.6,532.01 L1022.6,531.66 L1025.6,531.30 L1028.6,530.93 L1031.6,530.55 L1034.6,530.15 L1037.6,529.74 L1040.6,529.31 L1043.6,528.87 L1046.6,528.42 L1049.6,527.96 L1052.6,527.48 L1055.6,526.98 L1058.6,526.47 L1061.6,525.95 L1064.6,525.40 L1067.6,524.85 L1070.6,524.27 L1073.6,523.68 L1076.6,523.07 L1079.6,522.44 L1082.6,521.79 L1085.6,521.12 L1088.6,520.43 L1091.6,519.72 L1094.6,518.99 L1097.6,518.23 L1100.6,517.46 L1103.6,516.65 L1106.6,515.83 L1109.6,514.98 L1112.6,514.10 L1115.6,513.19 L1118.6,512.26 L1121.6,511.31 L1124.6,510.32 L1127.6,509.30 L1130.6,508.26 L1133.6,507.19 L1136.6,506.09 L1139.6,504.97 L1142.6,503.83 L1145.6,502.67 L1148.6,501.50 L1151.6,500.32 L1154.6,499.12 L1157.6,497.91 L1160.6,496.70 L1163.6,495.49 L1166.6,494.27 L1169.6,493.06 L1172.6,491.85 L1175.6,490.64 L1178.6,489.44 L1181.6,488.25 L1184.6,487.08 L1187.6,485.92 L1190.6,484.78 L1193.6,483.65 L1196.6,482.56 L1199.6,481.53 L1202.6,480.59 L1205.6,479.77 L1208.6,479.09 L1211.6,478.58 L1214.6,478.23 L1217.6,478.02 L1220.6,477.90 L1223.6,477.84 L1226.6,477.81 L1229.6,477.79 L1232.6,477.76 L1235.6,477.71 L1238.6,477.65 L1241.6,477.55 L1244.6,477.40 L1247.6,477.21 L1250.6,476.96 L1253.6,476.64 L1256.6,476.24 L1259.6,475.75 L1262.6,475.18 L1265.6,474.53 L1268.6,473.82 L1271.6,473.06 L1274.6,472.26 L1277.6,471.44 L1280.6,470.61 L1283.6,469.78 L1286.6,468.96 L1289.6,468.18 L1292.6,467.44 L1295.6,466.75 L1298.6,466.14 L1301.6,465.60 L1304.6,465.16 L1307.6,464.83 L1310.6,464.62 L1313.6,464.54 L1316.6,464.61 L1319.6,464.84 L1322.6,465.24 L1325.6,465.83 L1328.6,466.61 L1331.6,467.55 L1334.6,468.66 L1337.6,469.92 L1340.6,471.32 L1343.6,472.85 L1346.6,474.50 L1349.6,476.25 L1352.6,478.11 L1355.6,480.05 L1358.6,482.06 L1361.6,484.14 L1364.6,486.28 L1367.6,488.45 L1370.6,490.66 L1373.6,492.89 L1376.6,495.14 L1379.6,497.38 L1382.6,499.61 L1385.6,501.81 L1388.6,503.99 L1391.6,506.12 L1394.6,508.20 L1397.6,510.21 L1400.6,512.15 L1403.6,514.01 L1406.6,515.77 L1409.6,517.42 L1412.6,518.97 L1415.6,520.38 L1418.6,521.67 L1421.6,522.80 L1424.6,523.79 L1427.6,524.62 L1430.6,525.32 L1433.6,525.91 L1436.6,526.38 L1439.6,526.77 L1442.6,527.08 L1445.6,527.32 L1448.6,527.52 L1451.6,527.69 L1454.6,527.83 L1457.6,527.97 L1460.6,528.11 L1463.6,528.24 L1466.6,528.37 L1469.6,528.49 L1472.6,528.61 L1475.6,528.73 L1478.6,528.84 L1481.6,528.95 L1484.6,529.05 L1487.6,529.15 L1490.6,529.25 L1493.6,529.34 L1496.6,529.43 L1499.6,529.52 L1502.6,529.60 L1505.6,529.68 L1508.6,529.76 L1511.6,529.83 L1514.6,529.90 L1517.6,529.97 L1520.6,530.04 L1523.6,530.10 L1526.6,530.16 L1529.6,530.22 L1532.6,530.27 L1535.6,530.32 L1538.6,530.37 L1541.6,530.42 L1544.6,530.46 L1547.6,530.51 L1550.6,530.55 L1553.6,530.58 L1556.6,530.62 L1559.6,530.65 L1562.6,530.68 L1565.6,530.71 L1568.6,530.74 L1571.6,530.77 L1574.6,530.79 L1577.6,530.82 L1580.6,530.84 L1583.6,530.86 L1586.6,530.88 L1589.6,530.90 L1592.6,530.91 L1595.6,530.93 L1598.6,530.94 L1601.6,530.96 L1604.6,530.97 L1607.6,530.98 L1610.6,530.99 L1613.6,531.00 L1616.6,531.01 L1619.6,531.02 L1622.6,531.02 L1625.6,531.03 L1628.6,531.04 L1631.6,531.05 L1634.6,531.05 L1637.6,531.06 L1640.6,531.06 L1643.6,531.07 L1646.6,531.08 L1649.6,531.08 L1652.6,531.09 L1655.6,531.09 L1658.6,531.10 L1661.6,531.11 L1664.6,531.12 L1667.6,531.12 L1670.6,531.13 L1673.6,531.14 L1676.6,531.15 L1679.6,531.16 L1682.6,531.17 L1685.6,531.18 L1688.6,531.20 L1691.6,531.21 L1694.6,531.23 L1697.6,531.24 L1700.6,531.26 L1703.6,531.28 L1706.6,531.30 L1709.6,531.32 L1712.6,531.35 L1715.6,531.37 L1718.6,531.40 L1721.6,531.43 L1724.6,531.45 L1727.6,531.49 L1730.6,531.52 L1733.6,531.55 L1736.6,531.59 L1739.6,531.62 L1742.6,531.66 L1745.6,531.70 L1748.6,531.74 L1751.6,531.78 L1754.6,531.82 L1757.6,531.86 L1760.6,531.91 L1763.6,531.95 L1766.6,532.00 L1769.6,532.04 L1772.6,532.09 L1775.6,532.13 L1778.6,532.18 L1781.6,532.23 L1784.6,532.27 L1787.6,532.32 L1790.6,532.37 L1793.6,532.41 L1796.6,532.46 L1799.6,532.51 L1802.6,532.55 L1805.6,532.60 L1808.6,532.64 L1811.6,532.69 L1814.6,532.74 L1817.6,532.78 L1820.6,532.82 L1823.6,532.87 L1826.6,532.91 L1829.6,532.95 L1832.6,532.99 L1835.6,533.03 L1838.6,533.07 L1841.6,533.11 L1844.6,533.15 L1847.6,533.18 L1850.6,533.22 L1853.6,533.25 L1856.6,533.28 L1859.6,533.31 L1862.6,533.34 L1865.6,533.36 L1868.6,533.39 L1871.6,533.41 L1874.6,533.43 L1877.6,533.45 L1880.6,533.47 L1883.6,533.49 L1886.6,533.50 L1889.6,533.51 L1892.6,533.52 L1895.6,533.53 L1898.6,533.53 L1901.6,533.54 L1904.6,533.53 L1907.6,533.53 L1910.6,533.53 L1913.6,533.52 L1916.6,533.51 L1919.6,533.49 L1922.6,533.48 L1925.6,533.46 L1928.6,533.43 L1931.6,533.41 L1934.6,533.38 L1937.6,533.35 L1940.6,533.31 L1943.6,533.27 L1946.6,533.23 L1949.6,533.18 L1952.6,533.14 L1955.6,533.08 L1958.6,533.03 L1961.6,532.96 L1964.6,532.90 L1967.6,532.83 L1970.6,532.76 L1973.6,532.68 L1976.6,532.60 L1979.6,532.52 L1982.6,532.43 L1985.6,532.34 L1988.6,532.24 L1991.6,532.14 L1994.6,532.03 L1997.6,531.92 L2000.6,531.80 L2003.6,531.68 L2006.6,531.56 L2009.6,531.43 L2012.6,531.29 L2015.6,531.15 L2018.6,531.00 L2021.6,530.85 L2024.6,530.69 L2027.6,530.53 L2030.6,530.36 L2033.6,530.19 L2036.6,530.01 L2039.6,529.82 L2042.6,529.63 L2045.6,529.44 L2048.6,529.23 L2051.6,529.02 L2054.6,528.81 L2057.6,528.58 L2060.6,528.36 L2063.6,528.12 L2066.6,527.88 L2069.6,527.63 L2072.6,527.38 L2075.6,527.12 L2078.6,526.85 L2081.6,526.57 L2084.6,526.29 L2087.6,526.00 L2090.6,525.70 L2093.6,525.40 L2096.6,525.09 L2099.6,524.77 L2102.6,524.44 L2105.6,524.10 L2108.6,523.76 L2111.6,523.41 L2114.6,523.06 L2117.6,522.69 L2120.6,522.32 L2123.6,521.95 L2126.6,521.56 L2129.6,521.18 L2132.6,520.79 L2135.6,520.40 L2138.6,520.00 L2141.6,519.60 L2144.6,519.21 L2147.6,518.81 L2150.6,518.41 L2153.6,518.01 L2156.6,517.61 L2159.6,517.21 L2162.6,516.82 L2165.6,516.43 L2168.6,516.04 L2171.6,515.65 L2174.6,515.27 L2177.6,514.90 L2180.6,514.53 L2183.6,514.17 L2186.6,513.81 L2189.6,513.46 L2192.6,513.12 L2195.6,512.79 L2198.6,512.47 L2199.6,512.36" fill="none" stroke="#00f" stroke-width="5.4" stroke-linejoin="round" stroke-linecap="butt"/>
<path transform="scale(1,1.5)" d="M186.0,309.24 L189.0,309.54 L192.0,309.83 L195.0,310.12 L198.0,310.39 L201.0,310.67 L204.0,310.93 L207.0,311.19 L210.0,311.45 L213.0,311.69 L216.0,311.93 L219.0,312.17 L222.0,312.40 L225.0,312.62 L228.0,312.83 L231.0,313.05 L234.0,313.25 L237.0,313.45 L240.0,313.64 L243.0,313.83 L246.0,314.01 L249.0,314.19 L252.0,314.36 L255.0,314.53 L258.0,314.69 L261.0,314.85 L264.0,315.00 L267.0,315.15 L270.0,315.29 L273.0,315.42 L276.0,315.55 L279.0,315.68 L282.0,315.80 L285.0,315.92 L288.0,316.04 L291.0,316.14 L294.0,316.25 L297.0,316.35 L300.0,316.44 L303.0,316.54 L306.0,316.62 L309.0,316.71 L312.0,316.79 L315.0,316.86 L318.0,316.93 L321.0,317.00 L324.0,317.07 L327.0,317.13 L330.0,317.18 L333.0,317.24 L336.0,317.29 L339.0,317.34 L342.0,317.38 L345.0,317.42 L348.0,317.46 L351.0,317.49 L354.0,317.52 L357.0,317.55 L360.0,317.58 L363.0,317.60 L366.0,317.62 L369.0,317.64 L372.0,317.65 L375.0,317.67 L378.0,317.68 L381.0,317.68 L384.0,317.69 L387.0,317.69 L390.0,317.69 L393.0,317.69 L396.0,317.69 L399.0,317.68 L402.0,317.68 L405.0,317.67 L408.0,317.66 L411.0,317.64 L414.0,317.63 L417.0,317.62 L420.0,317.60 L423.0,317.58 L426.0,317.56 L429.0,317.54 L432.0,317.51 L435.0,317.49 L438.0,317.46 L441.0,317.43 L444.0,317.41 L447.0,317.37 L450.0,317.34 L453.0,317.31 L456.0,317.27 L459.0,317.24 L462.0,317.20 L465.0,317.16 L468.0,317.12 L471.0,317.08 L474.0,317.04 L477.0,316.99 L480.0,316.95 L483.0,316.90 L486.0,316.86 L489.0,316.81 L492.0,316.76 L495.0,316.71 L498.0,316.66 L501.0,316.60 L504.0,316.55 L507.0,316.50 L510.0,316.44 L513.0,316.39 L516.0,316.33 L519.0,316.27 L522.0,316.21 L525.0,316.15 L528.0,316.09 L531.0,316.03 L534.0,315.97 L537.0,315.90 L540.0,315.84 L543.0,315.78 L546.0,315.71 L549.0,315.64 L552.0,315.58 L555.0,315.51 L558.0,315.44 L561.0,315.37 L564.0,315.31 L567.0,315.24 L570.0,315.17 L573.0,315.10 L576.0,315.02 L579.0,314.95 L582.0,314.88 L585.0,314.81 L588.0,314.74 L591.0,314.66 L594.0,314.59 L597.0,314.52 L600.0,314.44 L603.0,314.37 L606.0,314.29 L609.0,314.22 L612.0,314.14 L615.0,314.07 L618.0,313.99 L621.0,313.92 L624.0,313.84 L627.0,313.77 L630.0,313.69 L633.0,313.61 L636.0,313.54 L639.0,313.46 L642.0,313.39 L645.0,313.31 L648.0,313.23 L651.0,313.16 L654.0,313.08 L657.0,313.01 L660.0,312.93 L663.0,312.86 L666.0,312.78 L669.0,312.71 L672.0,312.63 L675.0,312.56 L678.0,312.48 L681.0,312.41 L684.0,312.33 L687.0,312.26 L690.0,312.19 L693.0,312.11 L696.0,312.04 L699.0,311.96 L702.0,311.89 L705.0,311.82 L708.0,311.74 L711.0,311.67 L714.0,311.60 L717.0,311.52 L720.0,311.45 L723.0,311.38 L726.0,311.30 L729.0,311.23 L732.0,311.16 L735.0,311.08 L738.0,311.01 L741.0,310.94 L744.0,310.86 L747.0,310.79 L750.0,310.71 L753.0,310.64 L756.0,310.56 L759.0,310.49 L762.0,310.41 L765.0,310.34 L768.0,310.26 L771.0,310.18 L774.0,310.11 L777.0,310.03 L780.0,309.95 L783.0,309.87 L786.0,309.80 L789.0,309.72 L792.0,309.64 L795.0,309.56 L798.0,309.48 L801.0,309.40 L804.0,309.32 L807.0,309.24 L810.0,309.15 L813.0,309.07 L816.0,308.99 L819.0,308.90 L822.0,308.82 L825.0,308.73 L828.0,308.65 L831.0,308.56 L834.0,308.48 L837.0,308.39 L840.0,308.30 L843.0,308.21 L846.0,308.12 L849.0,308.03 L852.0,307.94 L855.0,307.85 L858.0,307.76 L861.0,307.66 L864.0,307.57 L867.0,307.47 L870.0,307.38 L873.0,307.28 L876.0,307.18 L879.0,307.08 L882.0,306.99 L885.0,306.88 L888.0,306.78 L891.0,306.68 L894.0,306.58 L897.0,306.47 L900.0,306.37 L903.0,306.26 L906.0,306.15 L909.0,306.05 L912.0,305.94 L915.0,305.83 L918.0,305.71 L921.0,305.60 L924.0,305.49 L927.0,305.37 L930.0,305.25 L933.0,305.14 L936.0,305.02 L939.0,304.90 L942.0,304.78 L945.0,304.65 L948.0,304.53 L951.0,304.40 L954.0,304.27 L957.0,304.14 L960.0,304.01 L963.0,303.87 L966.0,303.73 L969.0,303.59 L972.0,303.45 L975.0,303.30 L978.0,303.15 L981.0,303.00 L984.0,302.84 L987.0,302.68 L990.0,302.52 L993.0,302.35 L996.0,302.18 L999.0,302.00 L1002.0,301.82 L1005.0,301.64 L1008.0,301.45 L1011.0,301.26 L1014.0,301.06 L1017.0,300.86 L1020.0,300.66 L1023.0,300.44 L1026.0,300.23 L1029.0,300.01 L1032.0,299.78 L1035.0,299.54 L1038.0,299.31 L1041.0,299.06 L1044.0,298.81 L1047.0,298.56 L1050.0,298.29 L1053.0,298.02 L1056.0,297.75 L1059.0,297.47 L1062.0,297.18 L1065.0,296.88 L1068.0,296.58 L1071.0,296.27 L1074.0,295.96 L1077.0,295.63 L1080.0,295.30 L1083.0,294.96 L1086.0,294.62 L1089.0,294.26 L1092.0,293.90 L1095.0,293.53 L1098.0,293.15 L1101.0,292.76 L1104.0,292.37 L1107.0,291.96 L1110.0,291.55 L1113.0,291.13 L1116.0,290.70 L1119.0,290.26 L1122.0,289.81 L1125.0,289.35 L1128.0,288.88 L1131.0,288.41 L1134.0,287.92 L1137.0,287.42 L1140.0,286.91 L1143.0,286.40 L1146.0,285.87 L1149.0,285.33 L1152.0,284.78 L1155.0,284.22 L1158.0,283.65 L1161.0,283.07 L1164.0,282.47 L1167.0,281.87 L1170.0,281.26 L1173.0,280.63 L1176.0,279.99 L1179.0,279.34 L1182.0,278.68 L1185.0,278.01 L1188.0,277.32 L1191.0,276.62 L1194.0,275.91 L1197.0,275.19 L1200.0,274.45 L1203.0,273.71 L1206.0,272.95 L1209.0,272.18 L1212.0,271.40 L1215.0,270.61 L1218.0,269.81 L1221.0,268.99 L1224.0,268.17 L1227.0,267.34 L1230.0,266.50 L1233.0,265.66 L1236.0,264.80 L1239.0,263.93 L1242.0,263.06 L1245.0,262.18 L1248.0,261.29 L1251.0,260.40 L1254.0,259.50 L1257.0,258.59 L1260.0,257.67 L1263.0,256.75 L1266.0,255.83 L1269.0,254.89 L1272.0,253.95 L1275.0,253.00 L1278.0,252.04 L1281.0,251.07 L1284.0,250.10 L1287.0,249.11 L1290.0,248.11 L1293.0,247.10 L1296.0,246.07 L1299.0,245.04 L1302.0,243.99 L1305.0,242.93 L1308.0,241.85 L1311.0,240.76 L1314.0,239.65 L1317.0,238.53 L1320.0,237.39 L1323.0,236.24 L1326.0,235.06 L1329.0,233.87 L1332.0,232.66 L1335.0,231.43 L1338.0,230.17 L1341.0,228.90 L1344.0,227.60 L1347.0,226.27 L1350.0,224.92 L1353.0,223.54 L1356.0,222.13 L1359.0,220.69 L1362.0,219.21 L1365.0,217.71 L1368.0,216.17 L1371.0,214.60 L1374.0,212.99 L1377.0,211.34 L1380.0,209.66 L1383.0,207.93 L1386.0,206.17 L1389.0,204.36 L1392.0,202.51 L1395.0,200.61 L1398.0,198.67 L1401.0,196.67 L1404.0,194.61 L1407.0,192.49 L1410.0,190.30 L1413.0,188.05 L1416.0,185.72 L1419.0,183.31 L1422.0,180.83 L1425.0,178.26 L1428.0,175.60 L1431.0,172.84 L1434.0,170.00 L1437.0,167.05 L1440.0,164.00 L1443.0,160.84 L1446.0,157.56 L1449.0,154.18 L1452.0,150.67 L1455.0,147.04 L1458.0,143.29 L1461.0,139.46 L1464.0,135.60 L1467.0,131.75 L1470.0,127.97 L1473.0,124.29 L1476.0,120.76 L1479.0,117.44 L1482.0,114.36 L1485.0,111.58 L1488.0,109.14 L1491.0,107.08 L1494.0,105.40 L1497.0,104.08 L1500.0,103.10 L1503.0,102.45 L1506.0,102.13 L1509.0,102.11 L1512.0,102.37 L1515.0,102.92 L1518.0,103.72 L1521.0,104.78 L1524.0,106.06 L1527.0,107.56 L1530.0,109.27 L1533.0,111.16 L1536.0,113.23 L1539.0,115.45 L1542.0,117.81 L1545.0,120.30 L1548.0,122.90 L1551.0,125.59 L1554.0,128.37 L1557.0,131.20 L1560.0,134.09 L1563.0,137.01 L1566.0,139.94 L1569.0,142.88 L1572.0,145.81 L1575.0,148.71 L1578.0,151.57 L1581.0,154.37 L1584.0,157.09 L1587.0,159.72 L1590.0,162.26 L1593.0,164.69 L1596.0,167.04 L1599.0,169.28 L1602.0,171.43 L1605.0,173.49 L1608.0,175.46 L1611.0,177.34 L1614.0,179.13 L1617.0,180.83 L1620.0,182.45 L1623.0,183.98 L1626.0,185.43 L1629.0,186.80 L1632.0,188.09 L1635.0,189.30 L1638.0,190.43 L1641.0,191.49 L1644.0,192.47 L1647.0,193.37 L1650.0,194.21 L1653.0,194.97 L1656.0,195.67 L1659.0,196.30 L1662.0,196.86 L1665.0,197.35 L1668.0,197.78 L1671.0,198.15 L1674.0,198.46 L1677.0,198.71 L1680.0,198.90 L1683.0,199.03 L1686.0,199.11 L1689.0,199.13 L1692.0,199.10 L1695.0,199.02 L1698.0,198.88 L1701.0,198.70 L1704.0,198.47 L1707.0,198.20 L1710.0,197.88 L1713.0,197.52 L1716.0,197.11 L1719.0,196.66 L1722.0,196.18 L1725.0,195.65 L1728.0,195.09 L1731.0,194.50 L1734.0,193.86 L1737.0,193.20 L1740.0,192.50 L1743.0,191.78 L1746.0,191.02 L1749.0,190.23 L1752.0,189.42 L1755.0,188.59 L1758.0,187.72 L1761.0,186.84 L1764.0,185.93 L1767.0,185.01 L1770.0,184.06 L1773.0,183.10 L1776.0,182.11 L1779.0,181.12 L1782.0,180.11 L1785.0,179.08 L1788.0,178.05 L1791.0,177.00 L1794.0,175.95 L1797.0,174.88 L1800.0,173.81 L1803.0,172.74 L1806.0,171.66 L1809.0,170.57 L1812.0,169.49 L1815.0,168.40 L1818.0,167.32 L1821.0,166.24 L1824.0,165.16 L1827.0,164.09 L1830.0,163.02 L1833.0,161.96 L1836.0,160.90 L1839.0,159.86 L1842.0,158.83 L1845.0,157.81 L1848.0,156.80 L1851.0,155.81 L1854.0,154.84 L1857.0,153.89 L1860.0,152.96 L1863.0,152.05 L1866.0,151.17 L1869.0,150.33 L1872.0,149.51 L1875.0,148.73 L1878.0,147.99 L1881.0,147.29 L1884.0,146.63 L1887.0,146.02 L1890.0,145.45 L1893.0,144.93 L1896.0,144.47 L1899.0,144.06 L1902.0,143.71 L1905.0,143.42 L1908.0,143.20 L1911.0,143.04 L1914.0,142.94 L1917.0,142.92 L1920.0,142.97 L1923.0,143.09 L1926.0,143.29 L1929.0,143.58 L1932.0,143.94 L1935.0,144.39 L1938.0,144.93 L1941.0,145.56 L1944.0,146.28 L1947.0,147.10 L1950.0,148.01 L1953.0,149.03 L1956.0,150.14 L1959.0,151.37 L1962.0,152.70 L1965.0,154.14 L1968.0,155.70 L1971.0,157.37 L1974.0,159.15 L1977.0,161.06 L1980.0,163.09 L1983.0,165.23 L1986.0,167.47 L1989.0,169.79 L1992.0,172.17 L1995.0,174.60 L1998.0,177.05 L2001.0,179.52 L2004.0,181.99 L2007.0,184.43 L2010.0,186.84 L2013.0,189.19 L2016.0,191.48 L2019.0,193.70 L2022.0,195.85 L2025.0,197.93 L2028.0,199.93 L2031.0,201.84 L2034.0,203.66 L2037.0,205.38 L2040.0,207.01 L2043.0,208.54 L2046.0,209.96 L2049.0,211.26 L2052.0,212.45 L2055.0,213.53 L2058.0,214.48 L2061.0,215.30 L2064.0,215.99 L2067.0,216.55 L2070.0,216.97 L2073.0,217.25 L2076.0,217.38 L2079.0,217.37 L2082.0,217.20 L2085.0,216.87 L2088.0,216.38 L2091.0,215.73 L2094.0,214.91 L2097.0,213.92 L2100.0,212.75 L2103.0,211.41 L2106.0,209.87 L2109.0,208.16 L2112.0,206.25 L2115.0,204.16 L2118.0,201.91 L2121.0,199.50 L2124.0,196.94 L2127.0,194.25 L2130.0,191.43 L2133.0,188.51 L2136.0,185.48 L2139.0,182.37 L2142.0,179.17 L2145.0,175.92 L2148.0,172.60 L2151.0,169.25 L2154.0,165.86 L2157.0,162.45 L2160.0,159.04 L2163.0,155.62 L2166.0,152.22 L2169.0,148.85 L2172.0,145.51 L2175.0,142.22 L2178.0,138.98 L2181.0,135.80 L2184.0,132.67 L2187.0,129.59 L2190.0,126.57 L2193.0,123.59 L2196.0,120.66 L2199.2,117.59" fill="none" stroke="#0f0" stroke-width="5.4" stroke-linejoin="round" stroke-linecap="butt"/>
<rect x="196" y="79.3" width="162.5" height="8" fill="#0f0"/>
<text x="370.9" y="107.0" font-size="69.5" font-family="Liberation Serif, Times New Roman, serif" font-weight="bold" >VWT2</text>
<rect x="196" y="166.7" width="162.5" height="8" fill="#00f"/>
<text x="370.9" y="194.0" font-size="69.5" font-family="Liberation Serif, Times New Roman, serif" font-weight="bold" >VWT1</text>
<rect x="196" y="254.1" width="162.5" height="8" fill="#f00"/>
<text x="370.9" y="281.0" font-size="69.5" font-family="Liberation Serif, Times New Roman, serif" font-weight="bold" >VMT</text>
<rect x="196" y="341.5" width="162.5" height="8" fill="#000"/>
<text x="370.9" y="368.0" font-size="69.5" font-family="Liberation Serif, Times New Roman, serif" font-weight="bold" >VT</text>
<text x="1307.9" y="130.5" font-size="52.5" font-family="Liberation Serif, Times New Roman, serif" font-weight="bold" >549.6°C</text>
<text x="1835.2" y="179.5" font-size="52.5" font-family="Liberation Serif, Times New Roman, serif" font-weight="bold" >699.2°C</text>
<text x="1061.5" y="517.6" font-size="52.5" font-family="Liberation Serif, Times New Roman, serif" font-weight="bold" >440.3°C</text>
<text x="1317.1" y="502.0" font-size="52.5" font-family="Liberation Serif, Times New Roman, serif" font-weight="bold" >478.2°C</text>
<text x="1544.4" y="773.9" font-size="52.5" font-family="Liberation Serif, Times New Roman, serif" font-weight="bold" >550.1°C</text>
<text x="1959.3" y="797.4" font-size="52.5" font-family="Liberation Serif, Times New Roman, serif" font-weight="bold" >704.6°C</text>
<text x="1274.1" y="1156.1" font-size="52.5" font-family="Liberation Serif, Times New Roman, serif" font-weight="bold" >466.5°C</text>
<text x="952.1" y="1276.5" font-size="52.5" font-family="Liberation Serif, Times New Roman, serif" font-weight="bold" >420.2°C</text>
<text x="1757.6" y="1389.0" font-size="52.5" font-family="Liberation Serif, Times New Roman, serif" font-weight="bold" >713.5°C</text>
<text x="845.8" y="1742.0" font-size="76.9" font-family="Liberation Serif, Times New Roman, serif" font-weight="bold" textLength="582.5" lengthAdjust="spacing">Temperature / °C</text>
<text transform="translate(87.7,1059.2) rotate(-90)" x="0" y="0" font-size="76.6" font-family="Liberation Serif, Times New Roman, serif" font-weight="bold">TCD signal (a.u.)</text>
<text x="1124" y="1898" font-size="86" font-family="Liberation Serif, serif">(<tspan font-weight="bold" dx="-1.5">a</tspan><tspan dx="-3">)</tspan></text>
<rect x="195" y="1990.5" width="2024.0" height="8" fill="#000"/>
<rect x="195" y="1990.5" width="5.2" height="1493.5" fill="#000"/>
<rect x="195" y="3478.8" width="2021.5" height="5.2" fill="#000"/>
<rect x="2210.7" y="1990.5" width="5.8" height="1493.5" fill="#000"/>
<rect x="2216.5" y="1998.5" width="2.3" height="1512.5" fill="#8a8a8a"/>
<rect x="354.1" y="3484" width="5.2" height="26.5" fill="#000"/>
<rect x="619.4" y="3484" width="5.2" height="26.5" fill="#000"/>
<rect x="884.7" y="3484" width="5.2" height="26.5" fill="#000"/>
<rect x="1150.0" y="3484" width="5.2" height="26.5" fill="#000"/>
<rect x="1415.3" y="3484" width="5.2" height="26.5" fill="#000"/>
<rect x="1680.6" y="3484" width="5.2" height="26.5" fill="#000"/>
<rect x="1945.9" y="3484" width="5.2" height="26.5" fill="#000"/>
<rect x="221.4" y="3484" width="5.2" height="10.6" fill="#000"/>
<rect x="486.8" y="3484" width="5.2" height="10.6" fill="#000"/>
<rect x="752.0" y="3484" width="5.2" height="10.6" fill="#000"/>
<rect x="1017.4" y="3484" width="5.2" height="10.6" fill="#000"/>
<rect x="1282.7" y="3484" width="5.2" height="10.6" fill="#000"/>
<rect x="1548.0" y="3484" width="5.2" height="10.6" fill="#000"/>
<rect x="1813.3" y="3484" width="5.2" height="10.6" fill="#000"/>
<rect x="2078.6" y="3484" width="5.2" height="10.6" fill="#000"/>
<rect x="2210.7" y="3479" width="5.8" height="31.5" fill="#000"/>
<text x="356.7" y="3578.3" font-size="63.2" font-family="Liberation Serif, Times New Roman, serif" font-weight="bold" text-anchor="middle">100</text>
<text x="622.0" y="3578.3" font-size="63.2" font-family="Liberation Serif, Times New Roman, serif" font-weight="bold" text-anchor="middle">200</text>
<text x="887.3" y="3578.3" font-size="63.2" font-family="Liberation Serif, Times New Roman, serif" font-weight="bold" text-anchor="middle">300</text>
<text x="1152.6" y="3578.3" font-size="63.2" font-family="Liberation Serif, Times New Roman, serif" font-weight="bold" text-anchor="middle">400</text>
<text x="1417.9" y="3578.3" font-size="63.2" font-family="Liberation Serif, Times New Roman, serif" font-weight="bold" text-anchor="middle">500</text>
<text x="1683.2" y="3578.3" font-size="63.2" font-family="Liberation Serif, Times New Roman, serif" font-weight="bold" text-anchor="middle">600</text>
<text x="1948.5" y="3578.3" font-size="63.2" font-family="Liberation Serif, Times New Roman, serif" font-weight="bold" text-anchor="middle">700</text>
<text x="2213.8" y="3578.3" font-size="63.2" font-family="Liberation Serif, Times New Roman, serif" font-weight="bold" text-anchor="middle">800</text>
<line x1="413.2" y1="2370" x2="413.2" y2="2517.5" stroke="#000" stroke-width="5.6" stroke-dasharray="35.4 13.6 9.5 13.9" stroke-dashoffset="0"/>
<line x1="358.6" y1="2689.4" x2="358.6" y2="2820.4" stroke="#000" stroke-width="5.6" stroke-dasharray="35.4 13.6 9.5 13.9" stroke-dashoffset="0"/>
<line x1="1133.2" y1="2613" x2="1125" y2="2848" stroke="#000" stroke-width="5.6" stroke-dasharray="35.4 13.6 9.5 13.9" stroke-dashoffset="0"/>
<line x1="395.5" y1="3019.4" x2="395.5" y2="3124.7" stroke="#000" stroke-width="5.6" stroke-dasharray="30 8 8 10" stroke-dashoffset="0"/>
<line x1="2022.2" y1="2902.2" x2="2022.2" y2="3101.3" stroke="#000" stroke-width="5.4" stroke-dasharray="35.4 13.9 10.5 14" stroke-dashoffset="0"/>
<line x1="374.7" y1="3260.7" x2="374.7" y2="3390" stroke="#000" stroke-width="5.6" stroke-dasharray="35.4 13.6 9.5 13.9" stroke-dashoffset="0"/>
<line x1="1120.2" y1="3233.5" x2="1111.3" y2="3468.9" stroke="#000" stroke-width="5.6" stroke-dasharray="35.4 13.6 9.5 13.9" stroke-dashoffset="0"/>
<line x1="2051.8" y1="3285.4" x2="2051.8" y2="3464" stroke="#000" stroke-width="5.6" stroke-dasharray="35.4 13.6 9.5 13.9" stroke-dashoffset="0"/>
<path transform="scale(1,1.5)" d="M198.7,2292.30 L201.7,2292.20 L204.7,2292.03 L207.7,2291.81 L210.7,2291.51 L213.7,2291.13 L216.7,2290.66 L219.7,2290.09 L222.7,2289.41 L225.7,2288.62 L228.7,2287.72 L231.7,2286.76 L234.7,2285.77 L237.7,2284.80 L240.7,2283.88 L243.7,2283.06 L246.7,2282.31 L249.7,2281.60 L252.7,2280.88 L255.7,2280.11 L258.7,2279.24 L261.7,2278.22 L264.7,2277.06 L267.7,2275.73 L270.7,2274.20 L273.7,2272.47 L276.7,2270.54 L279.7,2268.46 L282.7,2266.32 L285.7,2264.20 L288.7,2262.16 L291.7,2260.30 L294.7,2258.62 L297.7,2257.10 L300.7,2255.73 L303.7,2254.48 L306.7,2253.33 L309.7,2252.26 L312.7,2251.25 L315.7,2250.28 L318.7,2249.33 L321.7,2248.37 L324.7,2247.39 L327.7,2246.39 L330.7,2245.37 L333.7,2244.35 L336.7,2243.32 L339.7,2242.30 L342.7,2241.30 L345.7,2240.33 L348.7,2239.39 L351.7,2238.49 L354.7,2237.64 L357.7,2236.85 L360.7,2236.12 L363.7,2235.45 L366.7,2234.84 L369.7,2234.28 L372.7,2233.79 L375.7,2233.35 L378.7,2232.97 L381.7,2232.65 L384.7,2232.38 L387.7,2232.17 L390.7,2232.01 L393.7,2231.90 L396.7,2231.84 L399.7,2231.84 L402.7,2231.88 L405.7,2231.98 L408.7,2232.13 L411.7,2232.32 L414.7,2232.56 L417.7,2232.85 L420.7,2233.18 L423.7,2233.56 L426.7,2233.98 L429.7,2234.44 L432.7,2234.94 L435.7,2235.47 L438.7,2236.03 L441.7,2236.61 L444.7,2237.22 L447.7,2237.85 L450.7,2238.49 L453.7,2239.15 L456.7,2239.82 L459.7,2240.50 L462.7,2241.18 L465.7,2241.86 L468.7,2242.54 L471.7,2243.22 L474.7,2243.89 L477.7,2244.54 L480.7,2245.18 L483.7,2245.80 L486.7,2246.40 L489.7,2246.98 L492.7,2247.53 L495.7,2248.06 L498.7,2248.57 L501.7,2249.06 L504.7,2249.53 L507.7,2249.97 L510.7,2250.40 L513.7,2250.81 L516.7,2251.20 L519.7,2251.58 L522.7,2251.94 L525.7,2252.28 L528.7,2252.61 L531.7,2252.92 L534.7,2253.22 L537.7,2253.51 L540.7,2253.79 L543.7,2254.05 L546.7,2254.31 L549.7,2254.55 L552.7,2254.79 L555.7,2255.02 L558.7,2255.24 L561.7,2255.45 L564.7,2255.66 L567.7,2255.86 L570.7,2256.05 L573.7,2256.23 L576.7,2256.41 L579.7,2256.58 L582.7,2256.74 L585.7,2256.90 L588.7,2257.05 L591.7,2257.19 L594.7,2257.33 L597.7,2257.47 L600.7,2257.60 L603.7,2257.72 L606.7,2257.84 L609.7,2257.96 L612.7,2258.07 L615.7,2258.17 L618.7,2258.27 L621.7,2258.37 L624.7,2258.47 L627.7,2258.56 L630.7,2258.65 L633.7,2258.73 L636.7,2258.81 L639.7,2258.89 L642.7,2258.97 L645.7,2259.05 L648.7,2259.12 L651.7,2259.19 L654.7,2259.26 L657.7,2259.33 L660.7,2259.40 L663.7,2259.46 L666.7,2259.53 L669.7,2259.59 L672.7,2259.66 L675.7,2259.72 L678.7,2259.79 L681.7,2259.85 L684.7,2259.92 L687.7,2259.98 L690.7,2260.05 L693.7,2260.11 L696.7,2260.18 L699.7,2260.25 L702.7,2260.32 L705.7,2260.39 L708.7,2260.46 L711.7,2260.53 L714.7,2260.60 L717.7,2260.67 L720.7,2260.74 L723.7,2260.81 L726.7,2260.89 L729.7,2260.96 L732.7,2261.04 L735.7,2261.11 L738.7,2261.19 L741.7,2261.27 L744.7,2261.35 L747.7,2261.43 L750.7,2261.51 L753.7,2261.59 L756.7,2261.67 L759.7,2261.76 L762.7,2261.84 L765.7,2261.93 L768.7,2262.01 L771.7,2262.10 L774.7,2262.19 L777.7,2262.28 L780.7,2262.37 L783.7,2262.46 L786.7,2262.56 L789.7,2262.65 L792.7,2262.75 L795.7,2262.85 L798.7,2262.95 L801.7,2263.05 L804.7,2263.15 L807.7,2263.25 L810.7,2263.36 L813.7,2263.46 L816.7,2263.57 L819.7,2263.68 L822.7,2263.79 L825.7,2263.89 L828.7,2264.00 L831.7,2264.11 L834.7,2264.22 L837.7,2264.33 L840.7,2264.44 L843.7,2264.54 L846.7,2264.64 L849.7,2264.74 L852.7,2264.84 L855.7,2264.94 L858.7,2265.03 L861.7,2265.12 L864.7,2265.20 L867.7,2265.28 L870.7,2265.36 L873.7,2265.43 L876.7,2265.50 L879.7,2265.56 L882.7,2265.62 L885.7,2265.67 L888.7,2265.71 L891.7,2265.75 L894.7,2265.78 L897.7,2265.80 L900.7,2265.82 L903.7,2265.82 L906.7,2265.82 L909.7,2265.81 L912.7,2265.79 L915.7,2265.77 L918.7,2265.73 L921.7,2265.68 L924.7,2265.63 L927.7,2265.56 L930.7,2265.48 L933.7,2265.39 L936.7,2265.29 L939.7,2265.18 L942.7,2265.05 L945.7,2264.92 L948.7,2264.77 L951.7,2264.60 L954.7,2264.42 L957.7,2264.23 L960.7,2264.02 L963.7,2263.79 L966.7,2263.54 L969.7,2263.27 L972.7,2262.98 L975.7,2262.67 L978.7,2262.34 L981.7,2261.98 L984.7,2261.60 L987.7,2261.19 L990.7,2260.76 L993.7,2260.30 L996.7,2259.82 L999.7,2259.30 L1002.7,2258.75 L1005.7,2258.18 L1008.7,2257.57 L1011.7,2256.93 L1014.7,2256.26 L1017.7,2255.57 L1020.7,2254.85 L1023.7,2254.11 L1026.7,2253.36 L1029.7,2252.58 L1032.7,2251.80 L1035.7,2251.01 L1038.7,2250.22 L1041.7,2249.42 L1044.7,2248.62 L1047.7,2247.82 L1050.7,2247.04 L1053.7,2246.26 L1056.7,2245.49 L1059.7,2244.74 L1062.7,2244.01 L1065.7,2243.30 L1068.7,2242.61 L1071.7,2241.95 L1074.7,2241.33 L1077.7,2240.73 L1080.7,2240.17 L1083.7,2239.65 L1086.7,2239.17 L1089.7,2238.73 L1092.7,2238.34 L1095.7,2237.99 L1098.7,2237.70 L1101.7,2237.45 L1104.7,2237.26 L1107.7,2237.13 L1110.7,2237.05 L1113.7,2237.04 L1116.7,2237.09 L1119.7,2237.20 L1122.7,2237.39 L1125.7,2237.64 L1128.7,2237.97 L1131.7,2238.37 L1134.7,2238.85 L1137.7,2239.41 L1140.7,2240.05 L1143.7,2240.77 L1146.7,2241.56 L1149.7,2242.42 L1152.7,2243.34 L1155.7,2244.32 L1158.7,2245.35 L1161.7,2246.42 L1164.7,2247.53 L1167.7,2248.68 L1170.7,2249.85 L1173.7,2251.04 L1176.7,2252.25 L1179.7,2253.47 L1182.7,2254.70 L1185.7,2255.92 L1188.7,2257.14 L1191.7,2258.34 L1194.7,2259.53 L1197.7,2260.69 L1200.7,2261.82 L1203.7,2262.92 L1206.7,2263.97 L1209.7,2264.99 L1212.7,2265.96 L1215.7,2266.90 L1218.7,2267.80 L1221.7,2268.66 L1224.7,2269.49 L1227.7,2270.28 L1230.7,2271.04 L1233.7,2271.77 L1236.7,2272.47 L1239.7,2273.13 L1242.7,2273.76 L1245.7,2274.37 L1248.7,2274.95 L1251.7,2275.50 L1254.7,2276.02 L1257.7,2276.52 L1260.7,2277.00 L1263.7,2277.45 L1266.7,2277.88 L1269.7,2278.29 L1272.7,2278.68 L1275.7,2279.05 L1278.7,2279.40 L1281.7,2279.74 L1284.7,2280.05 L1287.7,2280.35 L1290.7,2280.63 L1293.7,2280.90 L1296.7,2281.15 L1299.7,2281.39 L1302.7,2281.62 L1305.7,2281.84 L1308.7,2282.04 L1311.7,2282.23 L1314.7,2282.41 L1317.7,2282.58 L1320.7,2282.75 L1323.7,2282.90 L1326.7,2283.05 L1329.7,2283.19 L1332.7,2283.33 L1335.7,2283.46 L1338.7,2283.58 L1341.7,2283.70 L1344.7,2283.82 L1347.7,2283.93 L1350.7,2284.04 L1353.7,2284.14 L1356.7,2284.24 L1359.7,2284.33 L1362.7,2284.42 L1365.7,2284.50 L1368.7,2284.58 L1371.7,2284.66 L1374.7,2284.73 L1377.7,2284.79 L1380.7,2284.86 L1383.7,2284.92 L1386.7,2284.97 L1389.7,2285.02 L1392.7,2285.06 L1395.7,2285.11 L1398.7,2285.14 L1401.7,2285.18 L1404.7,2285.20 L1407.7,2285.23 L1410.7,2285.25 L1413.7,2285.27 L1416.7,2285.28 L1419.7,2285.29 L1422.7,2285.29 L1425.7,2285.30 L1428.7,2285.29 L1431.7,2285.29 L1434.7,2285.28 L1437.7,2285.26 L1440.7,2285.24 L1443.7,2285.22 L1446.7,2285.20 L1449.7,2285.17 L1452.7,2285.14 L1455.7,2285.10 L1458.7,2285.06 L1461.7,2285.02 L1464.7,2284.97 L1467.7,2284.92 L1470.7,2284.87 L1473.7,2284.81 L1476.7,2284.75 L1479.7,2284.69 L1482.7,2284.63 L1485.7,2284.56 L1488.7,2284.49 L1491.7,2284.42 L1494.7,2284.35 L1497.7,2284.27 L1500.7,2284.19 L1503.7,2284.12 L1506.7,2284.04 L1509.7,2283.96 L1512.7,2283.87 L1515.7,2283.79 L1518.7,2283.71 L1521.7,2283.63 L1524.7,2283.54 L1527.7,2283.46 L1530.7,2283.38 L1533.7,2283.29 L1536.7,2283.21 L1539.7,2283.13 L1542.7,2283.05 L1545.7,2282.97 L1548.7,2282.89 L1551.7,2282.81 L1554.7,2282.74 L1557.7,2282.66 L1560.7,2282.59 L1563.7,2282.52 L1566.7,2282.45 L1569.7,2282.38 L1572.7,2282.32 L1575.7,2282.26 L1578.7,2282.20 L1581.7,2282.15 L1584.7,2282.09 L1587.7,2282.05 L1590.7,2282.00 L1593.7,2281.96 L1596.7,2281.92 L1599.7,2281.89 L1602.7,2281.86 L1605.7,2281.83 L1608.7,2281.81 L1611.7,2281.80 L1614.7,2281.78 L1617.7,2281.77 L1620.7,2281.77 L1623.7,2281.77 L1626.7,2281.77 L1629.7,2281.78 L1632.7,2281.79 L1635.7,2281.80 L1638.7,2281.82 L1641.7,2281.85 L1644.7,2281.87 L1647.7,2281.91 L1650.7,2281.94 L1653.7,2281.98 L1656.7,2282.03 L1659.7,2282.07 L1662.7,2282.13 L1665.7,2282.18 L1668.7,2282.25 L1671.7,2282.31 L1674.7,2282.38 L1677.7,2282.45 L1680.7,2282.53 L1683.7,2282.61 L1686.7,2282.70 L1689.7,2282.79 L1692.7,2282.89 L1695.7,2282.99 L1698.7,2283.09 L1701.7,2283.20 L1704.7,2283.31 L1707.7,2283.43 L1710.7,2283.55 L1713.7,2283.67 L1716.7,2283.80 L1719.7,2283.94 L1722.7,2284.08 L1725.7,2284.22 L1728.7,2284.37 L1731.7,2284.52 L1734.7,2284.67 L1737.7,2284.83 L1740.7,2284.99 L1743.7,2285.14 L1746.7,2285.30 L1749.7,2285.46 L1752.7,2285.62 L1755.7,2285.77 L1758.7,2285.92 L1761.7,2286.07 L1764.7,2286.21 L1767.7,2286.34 L1770.7,2286.47 L1773.7,2286.60 L1776.7,2286.71 L1779.7,2286.82 L1782.7,2286.92 L1785.7,2287.01 L1788.7,2287.09 L1791.7,2287.15 L1794.7,2287.21 L1797.7,2287.25 L1800.7,2287.29 L1803.7,2287.31 L1806.7,2287.32 L1809.7,2287.33 L1812.7,2287.33 L1815.7,2287.32 L1818.7,2287.30 L1821.7,2287.28 L1824.7,2287.26 L1827.7,2287.23 L1830.7,2287.20 L1833.7,2287.16 L1836.7,2287.12 L1839.7,2287.08 L1842.7,2287.04 L1845.7,2287.01 L1848.7,2286.97 L1851.7,2286.93 L1854.7,2286.90 L1857.7,2286.87 L1860.7,2286.84 L1863.7,2286.82 L1866.7,2286.79 L1869.7,2286.77 L1872.7,2286.75 L1875.7,2286.73 L1878.7,2286.71 L1881.7,2286.69 L1884.7,2286.66 L1887.7,2286.63 L1890.7,2286.60 L1893.7,2286.56 L1896.7,2286.52 L1899.7,2286.47 L1902.7,2286.41 L1905.7,2286.35 L1908.7,2286.27 L1911.7,2286.19 L1914.7,2286.10 L1917.7,2286.00 L1920.7,2285.89 L1923.7,2285.76 L1926.7,2285.62 L1929.7,2285.48 L1932.7,2285.32 L1935.7,2285.15 L1938.7,2284.98 L1941.7,2284.79 L1944.7,2284.61 L1947.7,2284.41 L1950.7,2284.21 L1953.7,2284.01 L1956.7,2283.80 L1959.7,2283.59 L1962.7,2283.38 L1965.7,2283.17 L1968.7,2282.95 L1971.7,2282.74 L1974.7,2282.54 L1977.7,2282.33 L1980.7,2282.13 L1983.7,2281.93 L1986.7,2281.74 L1989.7,2281.55 L1992.7,2281.37 L1995.7,2281.20 L1998.7,2281.03 L2001.7,2280.88 L2004.7,2280.73 L2007.7,2280.59 L2010.7,2280.46 L2013.7,2280.34 L2016.7,2280.24 L2019.7,2280.14 L2022.7,2280.06 L2025.7,2279.99 L2028.7,2279.94 L2031.7,2279.90 L2034.7,2279.87 L2037.7,2279.86 L2040.7,2279.86 L2043.7,2279.88 L2046.7,2279.92 L2049.7,2279.97 L2052.7,2280.04 L2055.7,2280.14 L2058.7,2280.24 L2061.7,2280.37 L2064.7,2280.51 L2067.7,2280.67 L2070.7,2280.84 L2073.7,2281.02 L2076.7,2281.21 L2079.7,2281.42 L2082.7,2281.64 L2085.7,2281.86 L2088.7,2282.09 L2091.7,2282.34 L2094.7,2282.58 L2097.7,2282.84 L2100.7,2283.10 L2103.7,2283.36 L2106.7,2283.62 L2109.7,2283.89 L2112.7,2284.16 L2115.7,2284.43 L2118.7,2284.69 L2121.7,2284.96 L2124.7,2285.22 L2127.7,2285.48 L2130.7,2285.74 L2133.7,2286.00 L2136.7,2286.25 L2139.7,2286.50 L2142.7,2286.74 L2145.7,2286.98 L2148.7,2287.21 L2151.7,2287.44 L2154.7,2287.67 L2157.7,2287.88 L2160.7,2288.09 L2163.7,2288.29 L2166.7,2288.49 L2169.7,2288.67 L2172.7,2288.85 L2175.7,2289.02 L2178.7,2289.18 L2181.7,2289.33 L2184.7,2289.47 L2187.7,2289.60 L2190.7,2289.73 L2193.7,2289.84 L2196.7,2289.95 L2199.7,2290.06 L2202.7,2290.16 L2205.7,2290.26 L2207.6,2290.32" fill="none" stroke="#000" stroke-width="5.4" stroke-linejoin="round" stroke-linecap="butt"/>
<path transform="scale(1,1.5)" d="M198.7,2095.39 L201.7,2095.01 L204.7,2094.62 L207.7,2094.22 L210.7,2093.81 L213.7,2093.40 L216.7,2092.97 L219.7,2092.53 L222.7,2092.09 L225.7,2091.63 L228.7,2091.17 L231.7,2090.69 L234.7,2090.21 L237.7,2089.72 L240.7,2089.22 L243.7,2088.71 L246.7,2088.20 L249.7,2087.67 L252.7,2087.14 L255.7,2086.60 L258.7,2086.05 L261.7,2085.50 L264.7,2084.94 L267.7,2084.37 L270.7,2083.79 L273.7,2083.20 L276.7,2082.61 L279.7,2082.01 L282.7,2081.40 L285.7,2080.79 L288.7,2080.17 L291.7,2079.55 L294.7,2078.91 L297.7,2078.28 L300.7,2077.64 L303.7,2077.00 L306.7,2076.36 L309.7,2075.72 L312.7,2075.09 L315.7,2074.45 L318.7,2073.83 L321.7,2073.21 L324.7,2072.60 L327.7,2072.00 L330.7,2071.41 L333.7,2070.83 L336.7,2070.27 L339.7,2069.72 L342.7,2069.19 L345.7,2068.68 L348.7,2068.19 L351.7,2067.72 L354.7,2067.27 L357.7,2066.84 L360.7,2066.44 L363.7,2066.06 L366.7,2065.71 L369.7,2065.38 L372.7,2065.07 L375.7,2064.78 L378.7,2064.51 L381.7,2064.27 L384.7,2064.05 L387.7,2063.84 L390.7,2063.66 L393.7,2063.50 L396.7,2063.35 L399.7,2063.23 L402.7,2063.12 L405.7,2063.03 L408.7,2062.96 L411.7,2062.90 L414.7,2062.87 L417.7,2062.84 L420.7,2062.84 L423.7,2062.85 L426.7,2062.88 L429.7,2062.92 L432.7,2062.97 L435.7,2063.04 L438.7,2063.12 L441.7,2063.21 L444.7,2063.31 L447.7,2063.43 L450.7,2063.56 L453.7,2063.69 L456.7,2063.84 L459.7,2063.99 L462.7,2064.16 L465.7,2064.33 L468.7,2064.51 L471.7,2064.70 L474.7,2064.89 L477.7,2065.09 L480.7,2065.29 L483.7,2065.50 L486.7,2065.71 L489.7,2065.93 L492.7,2066.15 L495.7,2066.37 L498.7,2066.59 L501.7,2066.82 L504.7,2067.04 L507.7,2067.27 L510.7,2067.50 L513.7,2067.72 L516.7,2067.95 L519.7,2068.17 L522.7,2068.39 L525.7,2068.61 L528.7,2068.82 L531.7,2069.03 L534.7,2069.24 L537.7,2069.44 L540.7,2069.63 L543.7,2069.82 L546.7,2070.00 L549.7,2070.18 L552.7,2070.35 L555.7,2070.50 L558.7,2070.66 L561.7,2070.80 L564.7,2070.94 L567.7,2071.06 L570.7,2071.19 L573.7,2071.30 L576.7,2071.41 L579.7,2071.51 L582.7,2071.61 L585.7,2071.70 L588.7,2071.79 L591.7,2071.87 L594.7,2071.94 L597.7,2072.01 L600.7,2072.08 L603.7,2072.14 L606.7,2072.20 L609.7,2072.25 L612.7,2072.30 L615.7,2072.35 L618.7,2072.39 L621.7,2072.43 L624.7,2072.47 L627.7,2072.51 L630.7,2072.54 L633.7,2072.57 L636.7,2072.60 L639.7,2072.63 L642.7,2072.66 L645.7,2072.68 L648.7,2072.71 L651.7,2072.73 L654.7,2072.75 L657.7,2072.78 L660.7,2072.80 L663.7,2072.82 L666.7,2072.85 L669.7,2072.87 L672.7,2072.90 L675.7,2072.93 L678.7,2072.96 L681.7,2072.99 L684.7,2073.02 L687.7,2073.06 L690.7,2073.09 L693.7,2073.13 L696.7,2073.18 L699.7,2073.22 L702.7,2073.26 L705.7,2073.31 L708.7,2073.36 L711.7,2073.41 L714.7,2073.46 L717.7,2073.52 L720.7,2073.57 L723.7,2073.63 L726.7,2073.69 L729.7,2073.75 L732.7,2073.82 L735.7,2073.88 L738.7,2073.95 L741.7,2074.02 L744.7,2074.09 L747.7,2074.16 L750.7,2074.24 L753.7,2074.31 L756.7,2074.39 L759.7,2074.47 L762.7,2074.55 L765.7,2074.63 L768.7,2074.71 L771.7,2074.80 L774.7,2074.89 L777.7,2074.97 L780.7,2075.06 L783.7,2075.16 L786.7,2075.25 L789.7,2075.34 L792.7,2075.44 L795.7,2075.54 L798.7,2075.63 L801.7,2075.73 L804.7,2075.83 L807.7,2075.94 L810.7,2076.04 L813.7,2076.15 L816.7,2076.25 L819.7,2076.36 L822.7,2076.47 L825.7,2076.58 L828.7,2076.69 L831.7,2076.80 L834.7,2076.92 L837.7,2077.03 L840.7,2077.15 L843.7,2077.27 L846.7,2077.39 L849.7,2077.50 L852.7,2077.63 L855.7,2077.75 L858.7,2077.87 L861.7,2077.99 L864.7,2078.12 L867.7,2078.24 L870.7,2078.37 L873.7,2078.50 L876.7,2078.63 L879.7,2078.76 L882.7,2078.89 L885.7,2079.02 L888.7,2079.15 L891.7,2079.28 L894.7,2079.42 L897.7,2079.55 L900.7,2079.69 L903.7,2079.83 L906.7,2079.96 L909.7,2080.10 L912.7,2080.24 L915.7,2080.38 L918.7,2080.52 L921.7,2080.66 L924.7,2080.80 L927.7,2080.94 L930.7,2081.09 L933.7,2081.23 L936.7,2081.37 L939.7,2081.52 L942.7,2081.66 L945.7,2081.81 L948.7,2081.96 L951.7,2082.10 L954.7,2082.25 L957.7,2082.40 L960.7,2082.54 L963.7,2082.69 L966.7,2082.84 L969.7,2082.98 L972.7,2083.13 L975.7,2083.28 L978.7,2083.42 L981.7,2083.57 L984.7,2083.71 L987.7,2083.86 L990.7,2084.00 L993.7,2084.14 L996.7,2084.28 L999.7,2084.42 L1002.7,2084.56 L1005.7,2084.70 L1008.7,2084.83 L1011.7,2084.97 L1014.7,2085.10 L1017.7,2085.23 L1020.7,2085.36 L1023.7,2085.48 L1026.7,2085.61 L1029.7,2085.73 L1032.7,2085.85 L1035.7,2085.97 L1038.7,2086.08 L1041.7,2086.20 L1044.7,2086.31 L1047.7,2086.41 L1050.7,2086.52 L1053.7,2086.62 L1056.7,2086.72 L1059.7,2086.81 L1062.7,2086.90 L1065.7,2086.99 L1068.7,2087.08 L1071.7,2087.16 L1074.7,2087.24 L1077.7,2087.31 L1080.7,2087.38 L1083.7,2087.45 L1086.7,2087.51 L1089.7,2087.57 L1092.7,2087.63 L1095.7,2087.68 L1098.7,2087.73 L1101.7,2087.78 L1104.7,2087.82 L1107.7,2087.86 L1110.7,2087.90 L1113.7,2087.93 L1116.7,2087.97 L1119.7,2088.00 L1122.7,2088.02 L1125.7,2088.05 L1128.7,2088.07 L1131.7,2088.09 L1134.7,2088.11 L1137.7,2088.12 L1140.7,2088.13 L1143.7,2088.15 L1146.7,2088.16 L1149.7,2088.16 L1152.7,2088.17 L1155.7,2088.17 L1158.7,2088.18 L1161.7,2088.18 L1164.7,2088.18 L1167.7,2088.18 L1170.7,2088.17 L1173.7,2088.17 L1176.7,2088.16 L1179.7,2088.16 L1182.7,2088.15 L1185.7,2088.14 L1188.7,2088.13 L1191.7,2088.12 L1194.7,2088.12 L1197.7,2088.11 L1200.7,2088.09 L1203.7,2088.08 L1206.7,2088.07 L1209.7,2088.06 L1212.7,2088.05 L1215.7,2088.04 L1218.7,2088.03 L1221.7,2088.01 L1224.7,2088.00 L1227.7,2087.99 L1230.7,2087.98 L1233.7,2087.96 L1236.7,2087.95 L1239.7,2087.94 L1242.7,2087.93 L1245.7,2087.91 L1248.7,2087.90 L1251.7,2087.89 L1254.7,2087.87 L1257.7,2087.86 L1260.7,2087.84 L1263.7,2087.83 L1266.7,2087.82 L1269.7,2087.80 L1272.7,2087.79 L1275.7,2087.77 L1278.7,2087.76 L1281.7,2087.75 L1284.7,2087.73 L1287.7,2087.72 L1290.7,2087.70 L1293.7,2087.69 L1296.7,2087.67 L1299.7,2087.66 L1302.7,2087.64 L1305.7,2087.63 L1308.7,2087.61 L1311.7,2087.60 L1314.7,2087.59 L1317.7,2087.57 L1320.7,2087.56 L1323.7,2087.54 L1326.7,2087.53 L1329.7,2087.51 L1332.7,2087.50 L1335.7,2087.48 L1338.7,2087.47 L1341.7,2087.45 L1344.7,2087.44 L1347.7,2087.42 L1350.7,2087.41 L1353.7,2087.39 L1356.7,2087.37 L1359.7,2087.35 L1362.7,2087.34 L1365.7,2087.31 L1368.7,2087.29 L1371.7,2087.27 L1374.7,2087.24 L1377.7,2087.22 L1380.7,2087.19 L1383.7,2087.15 L1386.7,2087.12 L1389.7,2087.08 L1392.7,2087.04 L1395.7,2087.00 L1398.7,2086.96 L1401.7,2086.91 L1404.7,2086.86 L1407.7,2086.80 L1410.7,2086.74 L1413.7,2086.69 L1416.7,2086.62 L1419.7,2086.56 L1422.7,2086.50 L1425.7,2086.44 L1428.7,2086.37 L1431.7,2086.31 L1434.7,2086.25 L1437.7,2086.19 L1440.7,2086.13 L1443.7,2086.08 L1446.7,2086.03 L1449.7,2085.98 L1452.7,2085.93 L1455.7,2085.89 L1458.7,2085.86 L1461.7,2085.83 L1464.7,2085.80 L1467.7,2085.79 L1470.7,2085.77 L1473.7,2085.77 L1476.7,2085.77 L1479.7,2085.77 L1482.7,2085.79 L1485.7,2085.80 L1488.7,2085.82 L1491.7,2085.85 L1494.7,2085.87 L1497.7,2085.90 L1500.7,2085.94 L1503.7,2085.98 L1506.7,2086.01 L1509.7,2086.05 L1512.7,2086.10 L1515.7,2086.14 L1518.7,2086.18 L1521.7,2086.23 L1524.7,2086.27 L1527.7,2086.31 L1530.7,2086.35 L1533.7,2086.40 L1536.7,2086.43 L1539.7,2086.47 L1542.7,2086.51 L1545.7,2086.54 L1548.7,2086.57 L1551.7,2086.59 L1554.7,2086.62 L1557.7,2086.63 L1560.7,2086.65 L1563.7,2086.65 L1566.7,2086.66 L1569.7,2086.65 L1572.7,2086.64 L1575.7,2086.63 L1578.7,2086.60 L1581.7,2086.57 L1584.7,2086.54 L1587.7,2086.49 L1590.7,2086.44 L1593.7,2086.37 L1596.7,2086.30 L1599.7,2086.22 L1602.7,2086.13 L1605.7,2086.03 L1608.7,2085.92 L1611.7,2085.79 L1614.7,2085.66 L1617.7,2085.51 L1620.7,2085.35 L1623.7,2085.18 L1626.7,2085.00 L1629.7,2084.80 L1632.7,2084.59 L1635.7,2084.36 L1638.7,2084.12 L1641.7,2083.87 L1644.7,2083.60 L1647.7,2083.32 L1650.7,2083.02 L1653.7,2082.70 L1656.7,2082.36 L1659.7,2082.01 L1662.7,2081.65 L1665.7,2081.26 L1668.7,2080.86 L1671.7,2080.43 L1674.7,2079.99 L1677.7,2079.53 L1680.7,2079.05 L1683.7,2078.55 L1686.7,2078.03 L1689.7,2077.49 L1692.7,2076.92 L1695.7,2076.34 L1698.7,2075.73 L1701.7,2075.11 L1704.7,2074.45 L1707.7,2073.78 L1710.7,2073.08 L1713.7,2072.36 L1716.7,2071.62 L1719.7,2070.85 L1722.7,2070.05 L1725.7,2069.23 L1728.7,2068.38 L1731.7,2067.51 L1734.7,2066.61 L1737.7,2065.69 L1740.7,2064.75 L1743.7,2063.78 L1746.7,2062.80 L1749.7,2061.79 L1752.7,2060.77 L1755.7,2059.74 L1758.7,2058.68 L1761.7,2057.62 L1764.7,2056.54 L1767.7,2055.45 L1770.7,2054.35 L1773.7,2053.25 L1776.7,2052.14 L1779.7,2051.02 L1782.7,2049.89 L1785.7,2048.77 L1788.7,2047.64 L1791.7,2046.52 L1794.7,2045.39 L1797.7,2044.27 L1800.7,2043.15 L1803.7,2042.03 L1806.7,2040.92 L1809.7,2039.82 L1812.7,2038.73 L1815.7,2037.65 L1818.7,2036.58 L1821.7,2035.52 L1824.7,2034.48 L1827.7,2033.46 L1830.7,2032.45 L1833.7,2031.45 L1836.7,2030.48 L1839.7,2029.53 L1842.7,2028.60 L1845.7,2027.70 L1848.7,2026.82 L1851.7,2025.97 L1854.7,2025.14 L1857.7,2024.34 L1860.7,2023.57 L1863.7,2022.84 L1866.7,2022.13 L1869.7,2021.45 L1872.7,2020.80 L1875.7,2020.17 L1878.7,2019.56 L1881.7,2018.98 L1884.7,2018.41 L1887.7,2017.86 L1890.7,2017.32 L1893.7,2016.80 L1896.7,2016.29 L1899.7,2015.79 L1902.7,2015.29 L1905.7,2014.80 L1908.7,2014.32 L1911.7,2013.83 L1914.7,2013.35 L1917.7,2012.86 L1920.7,2012.38 L1923.7,2011.88 L1926.7,2011.38 L1929.7,2010.87 L1932.7,2010.36 L1935.7,2009.84 L1938.7,2009.31 L1941.7,2008.79 L1944.7,2008.28 L1947.7,2007.76 L1950.7,2007.26 L1953.7,2006.76 L1956.7,2006.28 L1959.7,2005.81 L1962.7,2005.36 L1965.7,2004.93 L1968.7,2004.53 L1971.7,2004.15 L1974.7,2003.79 L1977.7,2003.46 L1980.7,2003.17 L1983.7,2002.91 L1986.7,2002.69 L1989.7,2002.51 L1992.7,2002.37 L1995.7,2002.27 L1998.7,2002.22 L2001.7,2002.21 L2004.7,2002.26 L2007.7,2002.36 L2010.7,2002.51 L2013.7,2002.72 L2016.7,2002.98 L2019.7,2003.31 L2022.7,2003.69 L2025.7,2004.14 L2028.7,2004.66 L2031.7,2005.24 L2034.7,2005.89 L2037.7,2006.61 L2040.7,2007.41 L2043.7,2008.28 L2046.7,2009.23 L2049.7,2010.25 L2052.7,2011.36 L2055.7,2012.55 L2058.7,2013.83 L2061.7,2015.19 L2064.7,2016.63 L2067.7,2018.14 L2070.7,2019.71 L2073.7,2021.35 L2076.7,2023.04 L2079.7,2024.78 L2082.7,2026.56 L2085.7,2028.38 L2088.7,2030.22 L2091.7,2032.09 L2094.7,2033.98 L2097.7,2035.88 L2100.7,2037.79 L2103.7,2039.70 L2106.7,2041.60 L2109.7,2043.49 L2112.7,2045.36 L2115.7,2047.20 L2118.7,2049.02 L2121.7,2050.80 L2124.7,2052.54 L2127.7,2054.24 L2130.7,2055.88 L2133.7,2057.49 L2136.7,2059.04 L2139.7,2060.55 L2142.7,2062.01 L2145.7,2063.41 L2148.7,2064.77 L2151.7,2066.08 L2154.7,2067.33 L2157.7,2068.53 L2160.7,2069.68 L2163.7,2070.77 L2166.7,2071.80 L2169.7,2072.78 L2172.7,2073.71 L2175.7,2074.57 L2178.7,2075.37 L2181.7,2076.12 L2184.7,2076.80 L2187.7,2077.42 L2190.7,2077.98 L2193.7,2078.49 L2196.7,2078.93 L2199.7,2079.33 L2202.7,2079.68 L2205.7,2079.99 L2208.7,2080.26 L2211.7,2080.49 L2212.6,2080.56" fill="none" stroke="#f00" stroke-width="5.4" stroke-linejoin="round" stroke-linecap="butt"/>
<rect x="2210.5" y="3116" width="5.8" height="29" fill="#f00"/>
<path transform="scale(1,1.5)" d="M198.7,1856.96 L201.7,1856.71 L204.7,1856.44 L207.7,1856.16 L210.7,1855.87 L213.7,1855.56 L216.7,1855.23 L219.7,1854.87 L222.7,1854.50 L225.7,1854.10 L228.7,1853.68 L231.7,1853.23 L234.7,1852.76 L237.7,1852.26 L240.7,1851.73 L243.7,1851.17 L246.7,1850.58 L249.7,1849.95 L252.7,1849.30 L255.7,1848.62 L258.7,1847.90 L261.7,1847.15 L264.7,1846.37 L267.7,1845.58 L270.7,1844.77 L273.7,1843.95 L276.7,1843.13 L279.7,1842.32 L282.7,1841.52 L285.7,1840.73 L288.7,1839.97 L291.7,1839.23 L294.7,1838.53 L297.7,1837.85 L300.7,1837.21 L303.7,1836.59 L306.7,1836.01 L309.7,1835.45 L312.7,1834.91 L315.7,1834.41 L318.7,1833.93 L321.7,1833.48 L324.7,1833.05 L327.7,1832.64 L330.7,1832.26 L333.7,1831.91 L336.7,1831.57 L339.7,1831.26 L342.7,1830.97 L345.7,1830.70 L348.7,1830.45 L351.7,1830.23 L354.7,1830.02 L357.7,1829.83 L360.7,1829.66 L363.7,1829.51 L366.7,1829.37 L369.7,1829.25 L372.7,1829.15 L375.7,1829.07 L378.7,1829.00 L381.7,1828.94 L384.7,1828.90 L387.7,1828.87 L390.7,1828.85 L393.7,1828.85 L396.7,1828.86 L399.7,1828.88 L402.7,1828.91 L405.7,1828.95 L408.7,1829.00 L411.7,1829.06 L414.7,1829.13 L417.7,1829.21 L420.7,1829.30 L423.7,1829.39 L426.7,1829.49 L429.7,1829.59 L432.7,1829.70 L435.7,1829.82 L438.7,1829.94 L441.7,1830.07 L444.7,1830.20 L447.7,1830.34 L450.7,1830.48 L453.7,1830.63 L456.7,1830.78 L459.7,1830.93 L462.7,1831.09 L465.7,1831.24 L468.7,1831.41 L471.7,1831.57 L474.7,1831.73 L477.7,1831.90 L480.7,1832.07 L483.7,1832.24 L486.7,1832.41 L489.7,1832.58 L492.7,1832.75 L495.7,1832.92 L498.7,1833.09 L501.7,1833.26 L504.7,1833.43 L507.7,1833.59 L510.7,1833.76 L513.7,1833.92 L516.7,1834.08 L519.7,1834.24 L522.7,1834.40 L525.7,1834.55 L528.7,1834.70 L531.7,1834.84 L534.7,1834.98 L537.7,1835.12 L540.7,1835.25 L543.7,1835.38 L546.7,1835.50 L549.7,1835.61 L552.7,1835.72 L555.7,1835.83 L558.7,1835.92 L561.7,1836.02 L564.7,1836.10 L567.7,1836.18 L570.7,1836.26 L573.7,1836.33 L576.7,1836.40 L579.7,1836.46 L582.7,1836.51 L585.7,1836.57 L588.7,1836.61 L591.7,1836.66 L594.7,1836.70 L597.7,1836.73 L600.7,1836.76 L603.7,1836.79 L606.7,1836.81 L609.7,1836.83 L612.7,1836.85 L615.7,1836.86 L618.7,1836.88 L621.7,1836.88 L624.7,1836.89 L627.7,1836.89 L630.7,1836.89 L633.7,1836.89 L636.7,1836.89 L639.7,1836.89 L642.7,1836.88 L645.7,1836.87 L648.7,1836.86 L651.7,1836.85 L654.7,1836.84 L657.7,1836.82 L660.7,1836.81 L663.7,1836.79 L666.7,1836.78 L669.7,1836.76 L672.7,1836.74 L675.7,1836.73 L678.7,1836.71 L681.7,1836.69 L684.7,1836.68 L687.7,1836.66 L690.7,1836.65 L693.7,1836.63 L696.7,1836.62 L699.7,1836.60 L702.7,1836.59 L705.7,1836.58 L708.7,1836.56 L711.7,1836.55 L714.7,1836.54 L717.7,1836.53 L720.7,1836.52 L723.7,1836.51 L726.7,1836.50 L729.7,1836.49 L732.7,1836.48 L735.7,1836.47 L738.7,1836.47 L741.7,1836.46 L744.7,1836.46 L747.7,1836.45 L750.7,1836.45 L753.7,1836.44 L756.7,1836.44 L759.7,1836.44 L762.7,1836.44 L765.7,1836.44 L768.7,1836.44 L771.7,1836.44 L774.7,1836.44 L777.7,1836.45 L780.7,1836.45 L783.7,1836.46 L786.7,1836.46 L789.7,1836.47 L792.7,1836.48 L795.7,1836.49 L798.7,1836.50 L801.7,1836.51 L804.7,1836.52 L807.7,1836.53 L810.7,1836.55 L813.7,1836.56 L816.7,1836.58 L819.7,1836.60 L822.7,1836.62 L825.7,1836.63 L828.7,1836.65 L831.7,1836.67 L834.7,1836.69 L837.7,1836.71 L840.7,1836.72 L843.7,1836.74 L846.7,1836.75 L849.7,1836.77 L852.7,1836.78 L855.7,1836.78 L858.7,1836.79 L861.7,1836.79 L864.7,1836.79 L867.7,1836.79 L870.7,1836.79 L873.7,1836.78 L876.7,1836.76 L879.7,1836.74 L882.7,1836.72 L885.7,1836.70 L888.7,1836.66 L891.7,1836.63 L894.7,1836.59 L897.7,1836.54 L900.7,1836.48 L903.7,1836.42 L906.7,1836.36 L909.7,1836.28 L912.7,1836.20 L915.7,1836.12 L918.7,1836.02 L921.7,1835.92 L924.7,1835.81 L927.7,1835.69 L930.7,1835.56 L933.7,1835.43 L936.7,1835.28 L939.7,1835.13 L942.7,1834.97 L945.7,1834.80 L948.7,1834.61 L951.7,1834.42 L954.7,1834.22 L957.7,1834.01 L960.7,1833.78 L963.7,1833.55 L966.7,1833.31 L969.7,1833.06 L972.7,1832.79 L975.7,1832.52 L978.7,1832.24 L981.7,1831.94 L984.7,1831.64 L987.7,1831.33 L990.7,1831.00 L993.7,1830.67 L996.7,1830.32 L999.7,1829.97 L1002.7,1829.60 L1005.7,1829.22 L1008.7,1828.84 L1011.7,1828.44 L1014.7,1828.03 L1017.7,1827.61 L1020.7,1827.19 L1023.7,1826.76 L1026.7,1826.33 L1029.7,1825.89 L1032.7,1825.45 L1035.7,1825.01 L1038.7,1824.57 L1041.7,1824.13 L1044.7,1823.69 L1047.7,1823.26 L1050.7,1822.84 L1053.7,1822.42 L1056.7,1822.01 L1059.7,1821.62 L1062.7,1821.23 L1065.7,1820.86 L1068.7,1820.50 L1071.7,1820.16 L1074.7,1819.83 L1077.7,1819.52 L1080.7,1819.23 L1083.7,1818.96 L1086.7,1818.71 L1089.7,1818.49 L1092.7,1818.28 L1095.7,1818.10 L1098.7,1817.94 L1101.7,1817.80 L1104.7,1817.68 L1107.7,1817.59 L1110.7,1817.53 L1113.7,1817.49 L1116.7,1817.48 L1119.7,1817.49 L1122.7,1817.53 L1125.7,1817.60 L1128.7,1817.70 L1131.7,1817.83 L1134.7,1817.98 L1137.7,1818.17 L1140.7,1818.39 L1143.7,1818.64 L1146.7,1818.92 L1149.7,1819.23 L1152.7,1819.56 L1155.7,1819.92 L1158.7,1820.30 L1161.7,1820.70 L1164.7,1821.12 L1167.7,1821.56 L1170.7,1822.01 L1173.7,1822.48 L1176.7,1822.96 L1179.7,1823.45 L1182.7,1823.95 L1185.7,1824.46 L1188.7,1824.97 L1191.7,1825.48 L1194.7,1826.00 L1197.7,1826.52 L1200.7,1827.03 L1203.7,1827.54 L1206.7,1828.04 L1209.7,1828.54 L1212.7,1829.03 L1215.7,1829.52 L1218.7,1830.00 L1221.7,1830.47 L1224.7,1830.93 L1227.7,1831.39 L1230.7,1831.85 L1233.7,1832.29 L1236.7,1832.73 L1239.7,1833.17 L1242.7,1833.59 L1245.7,1834.01 L1248.7,1834.43 L1251.7,1834.84 L1254.7,1835.24 L1257.7,1835.63 L1260.7,1836.03 L1263.7,1836.41 L1266.7,1836.79 L1269.7,1837.16 L1272.7,1837.52 L1275.7,1837.88 L1278.7,1838.24 L1281.7,1838.59 L1284.7,1838.93 L1287.7,1839.27 L1290.7,1839.60 L1293.7,1839.92 L1296.7,1840.24 L1299.7,1840.56 L1302.7,1840.86 L1305.7,1841.17 L1308.7,1841.46 L1311.7,1841.75 L1314.7,1842.04 L1317.7,1842.32 L1320.7,1842.59 L1323.7,1842.86 L1326.7,1843.13 L1329.7,1843.39 L1332.7,1843.64 L1335.7,1843.89 L1338.7,1844.13 L1341.7,1844.37 L1344.7,1844.60 L1347.7,1844.83 L1350.7,1845.05 L1353.7,1845.27 L1356.7,1845.48 L1359.7,1845.68 L1362.7,1845.89 L1365.7,1846.08 L1368.7,1846.27 L1371.7,1846.46 L1374.7,1846.64 L1377.7,1846.82 L1380.7,1846.99 L1383.7,1847.16 L1386.7,1847.32 L1389.7,1847.48 L1392.7,1847.63 L1395.7,1847.78 L1398.7,1847.93 L1401.7,1848.07 L1404.7,1848.20 L1407.7,1848.33 L1410.7,1848.46 L1413.7,1848.58 L1416.7,1848.70 L1419.7,1848.81 L1422.7,1848.92 L1425.7,1849.02 L1428.7,1849.12 L1431.7,1849.21 L1434.7,1849.31 L1437.7,1849.39 L1440.7,1849.48 L1443.7,1849.55 L1446.7,1849.63 L1449.7,1849.70 L1452.7,1849.76 L1455.7,1849.83 L1458.7,1849.88 L1461.7,1849.94 L1464.7,1849.99 L1467.7,1850.04 L1470.7,1850.08 L1473.7,1850.12 L1476.7,1850.15 L1479.7,1850.18 L1482.7,1850.21 L1485.7,1850.24 L1488.7,1850.26 L1491.7,1850.28 L1494.7,1850.30 L1497.7,1850.31 L1500.7,1850.32 L1503.7,1850.33 L1506.7,1850.34 L1509.7,1850.34 L1512.7,1850.35 L1515.7,1850.35 L1518.7,1850.35 L1521.7,1850.35 L1524.7,1850.34 L1527.7,1850.34 L1530.7,1850.34 L1533.7,1850.33 L1536.7,1850.32 L1539.7,1850.32 L1542.7,1850.31 L1545.7,1850.30 L1548.7,1850.29 L1551.7,1850.28 L1554.7,1850.28 L1557.7,1850.27 L1560.7,1850.26 L1563.7,1850.25 L1566.7,1850.25 L1569.7,1850.24 L1572.7,1850.24 L1575.7,1850.23 L1578.7,1850.23 L1581.7,1850.23 L1584.7,1850.23 L1587.7,1850.23 L1590.7,1850.24 L1593.7,1850.24 L1596.7,1850.25 L1599.7,1850.26 L1602.7,1850.28 L1605.7,1850.29 L1608.7,1850.31 L1611.7,1850.33 L1614.7,1850.35 L1617.7,1850.37 L1620.7,1850.39 L1623.7,1850.42 L1626.7,1850.45 L1629.7,1850.47 L1632.7,1850.50 L1635.7,1850.54 L1638.7,1850.57 L1641.7,1850.60 L1644.7,1850.63 L1647.7,1850.67 L1650.7,1850.70 L1653.7,1850.74 L1656.7,1850.77 L1659.7,1850.81 L1662.7,1850.84 L1665.7,1850.88 L1668.7,1850.92 L1671.7,1850.95 L1674.7,1850.99 L1677.7,1851.02 L1680.7,1851.06 L1683.7,1851.09 L1686.7,1851.12 L1689.7,1851.16 L1692.7,1851.19 L1695.7,1851.22 L1698.7,1851.25 L1701.7,1851.28 L1704.7,1851.30 L1707.7,1851.33 L1710.7,1851.35 L1713.7,1851.38 L1716.7,1851.40 L1719.7,1851.42 L1722.7,1851.43 L1725.7,1851.45 L1728.7,1851.46 L1731.7,1851.47 L1734.7,1851.48 L1737.7,1851.48 L1740.7,1851.49 L1743.7,1851.49 L1746.7,1851.49 L1749.7,1851.48 L1752.7,1851.48 L1755.7,1851.47 L1758.7,1851.46 L1761.7,1851.45 L1764.7,1851.44 L1767.7,1851.43 L1770.7,1851.41 L1773.7,1851.39 L1776.7,1851.38 L1779.7,1851.36 L1782.7,1851.33 L1785.7,1851.31 L1788.7,1851.28 L1791.7,1851.26 L1794.7,1851.23 L1797.7,1851.20 L1800.7,1851.17 L1803.7,1851.14 L1806.7,1851.11 L1809.7,1851.07 L1812.7,1851.04 L1815.7,1851.00 L1818.7,1850.96 L1821.7,1850.93 L1824.7,1850.89 L1827.7,1850.85 L1830.7,1850.81 L1833.7,1850.77 L1836.7,1850.72 L1839.7,1850.68 L1842.7,1850.64 L1845.7,1850.59 L1848.7,1850.55 L1851.7,1850.50 L1854.7,1850.46 L1857.7,1850.41 L1860.7,1850.36 L1863.7,1850.32 L1866.7,1850.27 L1869.7,1850.22 L1872.7,1850.18 L1875.7,1850.13 L1878.7,1850.08 L1881.7,1850.03 L1884.7,1849.98 L1887.7,1849.94 L1890.7,1849.89 L1893.7,1849.84 L1896.7,1849.79 L1899.7,1849.75 L1902.7,1849.70 L1905.7,1849.65 L1908.7,1849.60 L1911.7,1849.56 L1914.7,1849.51 L1917.7,1849.47 L1920.7,1849.42 L1923.7,1849.38 L1926.7,1849.33 L1929.7,1849.29 L1932.7,1849.25 L1935.7,1849.21 L1938.7,1849.17 L1941.7,1849.13 L1944.7,1849.09 L1947.7,1849.05 L1950.7,1849.01 L1953.7,1848.98 L1956.7,1848.94 L1959.7,1848.91 L1962.7,1848.87 L1965.7,1848.84 L1968.7,1848.81 L1971.7,1848.78 L1974.7,1848.75 L1977.7,1848.73 L1980.7,1848.70 L1983.7,1848.68 L1986.7,1848.65 L1989.7,1848.63 L1992.7,1848.61 L1995.7,1848.60 L1998.7,1848.58 L2001.7,1848.57 L2004.7,1848.55 L2007.7,1848.54 L2010.7,1848.53 L2013.7,1848.52 L2016.7,1848.52 L2019.7,1848.51 L2022.7,1848.51 L2025.7,1848.51 L2028.7,1848.51 L2031.7,1848.51 L2034.7,1848.51 L2037.7,1848.51 L2040.7,1848.52 L2043.7,1848.52 L2046.7,1848.53 L2049.7,1848.54 L2052.7,1848.55 L2055.7,1848.57 L2058.7,1848.58 L2061.7,1848.60 L2064.7,1848.62 L2067.7,1848.63 L2070.7,1848.65 L2073.7,1848.68 L2076.7,1848.70 L2079.7,1848.72 L2082.7,1848.75 L2085.7,1848.78 L2088.7,1848.81 L2091.7,1848.84 L2094.7,1848.87 L2097.7,1848.90 L2100.7,1848.94 L2103.7,1848.97 L2106.7,1849.01 L2109.7,1849.05 L2112.7,1849.09 L2115.7,1849.13 L2118.7,1849.17 L2121.7,1849.22 L2124.7,1849.26 L2127.7,1849.31 L2130.7,1849.36 L2133.7,1849.41 L2136.7,1849.46 L2139.7,1849.51 L2142.7,1849.57 L2145.7,1849.62 L2148.7,1849.68 L2151.7,1849.74 L2154.7,1849.80 L2157.7,1849.86 L2160.7,1849.92 L2163.7,1849.98 L2166.7,1850.05 L2169.7,1850.11 L2172.7,1850.18 L2175.7,1850.25 L2178.7,1850.32 L2181.7,1850.39 L2184.7,1850.46 L2187.7,1850.53 L2190.7,1850.61 L2193.7,1850.68 L2196.7,1850.76 L2199.7,1850.84 L2202.7,1850.92 L2205.7,1851.00 L2208.7,1851.08 L2211.8,1851.17" fill="none" stroke="#00f" stroke-width="5.4" stroke-linejoin="round" stroke-linecap="butt"/>
<rect x="2210.7" y="2774" width="5.2" height="15.5" fill="#00f"/>
<path transform="scale(1,1.5)" d="M198.7,1659.58 L201.7,1659.36 L204.7,1659.14 L207.7,1658.89 L210.7,1658.64 L213.7,1658.36 L216.7,1658.08 L219.7,1657.77 L222.7,1657.45 L225.7,1657.12 L228.7,1656.77 L231.7,1656.41 L234.7,1656.03 L237.7,1655.64 L240.7,1655.24 L243.7,1654.82 L246.7,1654.38 L249.7,1653.93 L252.7,1653.47 L255.7,1653.00 L258.7,1652.51 L261.7,1652.00 L264.7,1651.49 L267.7,1650.96 L270.7,1650.41 L273.7,1649.85 L276.7,1649.28 L279.7,1648.70 L282.7,1648.10 L285.7,1647.50 L288.7,1646.87 L291.7,1646.24 L294.7,1645.59 L297.7,1644.94 L300.7,1644.27 L303.7,1643.60 L306.7,1642.92 L309.7,1642.24 L312.7,1641.56 L315.7,1640.88 L318.7,1640.20 L321.7,1639.52 L324.7,1638.84 L327.7,1638.17 L330.7,1637.51 L333.7,1636.86 L336.7,1636.21 L339.7,1635.58 L342.7,1634.97 L345.7,1634.36 L348.7,1633.78 L351.7,1633.21 L354.7,1632.67 L357.7,1632.14 L360.7,1631.64 L363.7,1631.16 L366.7,1630.70 L369.7,1630.26 L372.7,1629.85 L375.7,1629.45 L378.7,1629.08 L381.7,1628.73 L384.7,1628.41 L387.7,1628.10 L390.7,1627.82 L393.7,1627.55 L396.7,1627.31 L399.7,1627.09 L402.7,1626.90 L405.7,1626.72 L408.7,1626.56 L411.7,1626.43 L414.7,1626.32 L417.7,1626.23 L420.7,1626.16 L423.7,1626.11 L426.7,1626.08 L429.7,1626.07 L432.7,1626.09 L435.7,1626.12 L438.7,1626.16 L441.7,1626.23 L444.7,1626.31 L447.7,1626.41 L450.7,1626.52 L453.7,1626.65 L456.7,1626.79 L459.7,1626.94 L462.7,1627.11 L465.7,1627.28 L468.7,1627.47 L471.7,1627.67 L474.7,1627.88 L477.7,1628.10 L480.7,1628.32 L483.7,1628.56 L486.7,1628.80 L489.7,1629.04 L492.7,1629.30 L495.7,1629.55 L498.7,1629.81 L501.7,1630.08 L504.7,1630.35 L507.7,1630.61 L510.7,1630.89 L513.7,1631.16 L516.7,1631.43 L519.7,1631.70 L522.7,1631.97 L525.7,1632.24 L528.7,1632.50 L531.7,1632.77 L534.7,1633.02 L537.7,1633.28 L540.7,1633.52 L543.7,1633.77 L546.7,1634.00 L549.7,1634.23 L552.7,1634.45 L555.7,1634.66 L558.7,1634.86 L561.7,1635.05 L564.7,1635.24 L567.7,1635.42 L570.7,1635.59 L573.7,1635.75 L576.7,1635.91 L579.7,1636.06 L582.7,1636.20 L585.7,1636.34 L588.7,1636.46 L591.7,1636.59 L594.7,1636.70 L597.7,1636.81 L600.7,1636.92 L603.7,1637.01 L606.7,1637.11 L609.7,1637.19 L612.7,1637.27 L615.7,1637.35 L618.7,1637.42 L621.7,1637.49 L624.7,1637.55 L627.7,1637.61 L630.7,1637.67 L633.7,1637.72 L636.7,1637.76 L639.7,1637.81 L642.7,1637.85 L645.7,1637.88 L648.7,1637.91 L651.7,1637.94 L654.7,1637.97 L657.7,1638.00 L660.7,1638.02 L663.7,1638.04 L666.7,1638.06 L669.7,1638.07 L672.7,1638.09 L675.7,1638.10 L678.7,1638.11 L681.7,1638.12 L684.7,1638.13 L687.7,1638.14 L690.7,1638.14 L693.7,1638.15 L696.7,1638.15 L699.7,1638.16 L702.7,1638.16 L705.7,1638.17 L708.7,1638.17 L711.7,1638.17 L714.7,1638.17 L717.7,1638.17 L720.7,1638.17 L723.7,1638.17 L726.7,1638.17 L729.7,1638.17 L732.7,1638.17 L735.7,1638.16 L738.7,1638.16 L741.7,1638.16 L744.7,1638.16 L747.7,1638.15 L750.7,1638.15 L753.7,1638.15 L756.7,1638.14 L759.7,1638.14 L762.7,1638.13 L765.7,1638.13 L768.7,1638.13 L771.7,1638.12 L774.7,1638.12 L777.7,1638.11 L780.7,1638.11 L783.7,1638.11 L786.7,1638.11 L789.7,1638.10 L792.7,1638.10 L795.7,1638.10 L798.7,1638.10 L801.7,1638.10 L804.7,1638.10 L807.7,1638.10 L810.7,1638.10 L813.7,1638.10 L816.7,1638.10 L819.7,1638.10 L822.7,1638.10 L825.7,1638.11 L828.7,1638.11 L831.7,1638.12 L834.7,1638.12 L837.7,1638.13 L840.7,1638.14 L843.7,1638.15 L846.7,1638.16 L849.7,1638.17 L852.7,1638.18 L855.7,1638.19 L858.7,1638.21 L861.7,1638.22 L864.7,1638.24 L867.7,1638.26 L870.7,1638.28 L873.7,1638.30 L876.7,1638.32 L879.7,1638.34 L882.7,1638.37 L885.7,1638.39 L888.7,1638.42 L891.7,1638.45 L894.7,1638.48 L897.7,1638.51 L900.7,1638.55 L903.7,1638.58 L906.7,1638.62 L909.7,1638.66 L912.7,1638.70 L915.7,1638.74 L918.7,1638.79 L921.7,1638.83 L924.7,1638.88 L927.7,1638.93 L930.7,1638.98 L933.7,1639.04 L936.7,1639.09 L939.7,1639.15 L942.7,1639.21 L945.7,1639.28 L948.7,1639.34 L951.7,1639.41 L954.7,1639.48 L957.7,1639.55 L960.7,1639.62 L963.7,1639.70 L966.7,1639.77 L969.7,1639.85 L972.7,1639.93 L975.7,1640.01 L978.7,1640.09 L981.7,1640.18 L984.7,1640.26 L987.7,1640.35 L990.7,1640.43 L993.7,1640.52 L996.7,1640.60 L999.7,1640.69 L1002.7,1640.78 L1005.7,1640.87 L1008.7,1640.96 L1011.7,1641.05 L1014.7,1641.14 L1017.7,1641.23 L1020.7,1641.31 L1023.7,1641.40 L1026.7,1641.49 L1029.7,1641.58 L1032.7,1641.67 L1035.7,1641.76 L1038.7,1641.84 L1041.7,1641.93 L1044.7,1642.01 L1047.7,1642.10 L1050.7,1642.18 L1053.7,1642.26 L1056.7,1642.34 L1059.7,1642.42 L1062.7,1642.50 L1065.7,1642.57 L1068.7,1642.65 L1071.7,1642.72 L1074.7,1642.79 L1077.7,1642.86 L1080.7,1642.93 L1083.7,1642.99 L1086.7,1643.06 L1089.7,1643.12 L1092.7,1643.18 L1095.7,1643.24 L1098.7,1643.30 L1101.7,1643.35 L1104.7,1643.41 L1107.7,1643.46 L1110.7,1643.52 L1113.7,1643.57 L1116.7,1643.62 L1119.7,1643.67 L1122.7,1643.72 L1125.7,1643.77 L1128.7,1643.82 L1131.7,1643.87 L1134.7,1643.92 L1137.7,1643.97 L1140.7,1644.02 L1143.7,1644.07 L1146.7,1644.12 L1149.7,1644.16 L1152.7,1644.21 L1155.7,1644.26 L1158.7,1644.31 L1161.7,1644.36 L1164.7,1644.42 L1167.7,1644.47 L1170.7,1644.52 L1173.7,1644.57 L1176.7,1644.63 L1179.7,1644.68 L1182.7,1644.74 L1185.7,1644.80 L1188.7,1644.86 L1191.7,1644.92 L1194.7,1644.98 L1197.7,1645.05 L1200.7,1645.11 L1203.7,1645.18 L1206.7,1645.25 L1209.7,1645.32 L1212.7,1645.40 L1215.7,1645.47 L1218.7,1645.55 L1221.7,1645.63 L1224.7,1645.71 L1227.7,1645.79 L1230.7,1645.87 L1233.7,1645.96 L1236.7,1646.04 L1239.7,1646.13 L1242.7,1646.22 L1245.7,1646.31 L1248.7,1646.40 L1251.7,1646.49 L1254.7,1646.58 L1257.7,1646.67 L1260.7,1646.76 L1263.7,1646.85 L1266.7,1646.94 L1269.7,1647.03 L1272.7,1647.12 L1275.7,1647.21 L1278.7,1647.31 L1281.7,1647.40 L1284.7,1647.49 L1287.7,1647.58 L1290.7,1647.67 L1293.7,1647.75 L1296.7,1647.84 L1299.7,1647.93 L1302.7,1648.01 L1305.7,1648.10 L1308.7,1648.18 L1311.7,1648.26 L1314.7,1648.34 L1317.7,1648.42 L1320.7,1648.50 L1323.7,1648.58 L1326.7,1648.65 L1329.7,1648.72 L1332.7,1648.79 L1335.7,1648.86 L1338.7,1648.93 L1341.7,1648.99 L1344.7,1649.05 L1347.7,1649.11 L1350.7,1649.17 L1353.7,1649.22 L1356.7,1649.27 L1359.7,1649.32 L1362.7,1649.37 L1365.7,1649.42 L1368.7,1649.46 L1371.7,1649.50 L1374.7,1649.54 L1377.7,1649.58 L1380.7,1649.61 L1383.7,1649.65 L1386.7,1649.68 L1389.7,1649.70 L1392.7,1649.73 L1395.7,1649.75 L1398.7,1649.77 L1401.7,1649.79 L1404.7,1649.81 L1407.7,1649.83 L1410.7,1649.84 L1413.7,1649.85 L1416.7,1649.86 L1419.7,1649.86 L1422.7,1649.87 L1425.7,1649.87 L1428.7,1649.87 L1431.7,1649.86 L1434.7,1649.86 L1437.7,1649.85 L1440.7,1649.84 L1443.7,1649.83 L1446.7,1649.82 L1449.7,1649.80 L1452.7,1649.79 L1455.7,1649.77 L1458.7,1649.74 L1461.7,1649.72 L1464.7,1649.69 L1467.7,1649.67 L1470.7,1649.63 L1473.7,1649.60 L1476.7,1649.57 L1479.7,1649.53 L1482.7,1649.49 L1485.7,1649.45 L1488.7,1649.41 L1491.7,1649.37 L1494.7,1649.33 L1497.7,1649.28 L1500.7,1649.23 L1503.7,1649.19 L1506.7,1649.14 L1509.7,1649.09 L1512.7,1649.04 L1515.7,1648.99 L1518.7,1648.94 L1521.7,1648.89 L1524.7,1648.83 L1527.7,1648.78 L1530.7,1648.73 L1533.7,1648.68 L1536.7,1648.63 L1539.7,1648.57 L1542.7,1648.52 L1545.7,1648.47 L1548.7,1648.42 L1551.7,1648.37 L1554.7,1648.32 L1557.7,1648.28 L1560.7,1648.23 L1563.7,1648.18 L1566.7,1648.14 L1569.7,1648.09 L1572.7,1648.05 L1575.7,1648.01 L1578.7,1647.97 L1581.7,1647.93 L1584.7,1647.90 L1587.7,1647.86 L1590.7,1647.83 L1593.7,1647.80 L1596.7,1647.77 L1599.7,1647.75 L1602.7,1647.72 L1605.7,1647.70 L1608.7,1647.68 L1611.7,1647.67 L1614.7,1647.65 L1617.7,1647.64 L1620.7,1647.63 L1623.7,1647.62 L1626.7,1647.62 L1629.7,1647.61 L1632.7,1647.61 L1635.7,1647.61 L1638.7,1647.61 L1641.7,1647.61 L1644.7,1647.61 L1647.7,1647.62 L1650.7,1647.62 L1653.7,1647.63 L1656.7,1647.64 L1659.7,1647.65 L1662.7,1647.66 L1665.7,1647.67 L1668.7,1647.68 L1671.7,1647.70 L1674.7,1647.71 L1677.7,1647.73 L1680.7,1647.74 L1683.7,1647.76 L1686.7,1647.78 L1689.7,1647.80 L1692.7,1647.81 L1695.7,1647.83 L1698.7,1647.85 L1701.7,1647.87 L1704.7,1647.89 L1707.7,1647.91 L1710.7,1647.93 L1713.7,1647.95 L1716.7,1647.97 L1719.7,1647.98 L1722.7,1648.00 L1725.7,1648.02 L1728.7,1648.04 L1731.7,1648.06 L1734.7,1648.08 L1737.7,1648.09 L1740.7,1648.11 L1743.7,1648.12 L1746.7,1648.14 L1749.7,1648.16 L1752.7,1648.17 L1755.7,1648.19 L1758.7,1648.20 L1761.7,1648.21 L1764.7,1648.23 L1767.7,1648.24 L1770.7,1648.25 L1773.7,1648.27 L1776.7,1648.28 L1779.7,1648.29 L1782.7,1648.30 L1785.7,1648.32 L1788.7,1648.33 L1791.7,1648.34 L1794.7,1648.35 L1797.7,1648.36 L1800.7,1648.37 L1803.7,1648.39 L1806.7,1648.40 L1809.7,1648.41 L1812.7,1648.42 L1815.7,1648.43 L1818.7,1648.44 L1821.7,1648.45 L1824.7,1648.46 L1827.7,1648.48 L1830.7,1648.49 L1833.7,1648.50 L1836.7,1648.51 L1839.7,1648.52 L1842.7,1648.53 L1845.7,1648.55 L1848.7,1648.56 L1851.7,1648.57 L1854.7,1648.58 L1857.7,1648.60 L1860.7,1648.61 L1863.7,1648.62 L1866.7,1648.64 L1869.7,1648.65 L1872.7,1648.66 L1875.7,1648.68 L1878.7,1648.69 L1881.7,1648.71 L1884.7,1648.72 L1887.7,1648.74 L1890.7,1648.76 L1893.7,1648.77 L1896.7,1648.79 L1899.7,1648.81 L1902.7,1648.83 L1905.7,1648.84 L1908.7,1648.86 L1911.7,1648.88 L1914.7,1648.90 L1917.7,1648.92 L1920.7,1648.94 L1923.7,1648.97 L1926.7,1648.99 L1929.7,1649.01 L1932.7,1649.04 L1935.7,1649.06 L1938.7,1649.08 L1941.7,1649.11 L1944.7,1649.14 L1947.7,1649.16 L1950.7,1649.19 L1953.7,1649.22 L1956.7,1649.25 L1959.7,1649.28 L1962.7,1649.31 L1965.7,1649.34 L1968.7,1649.37 L1971.7,1649.41 L1974.7,1649.44 L1977.7,1649.48 L1980.7,1649.51 L1983.7,1649.55 L1986.7,1649.59 L1989.7,1649.63 L1992.7,1649.66 L1995.7,1649.71 L1998.7,1649.75 L2001.7,1649.79 L2004.7,1649.83 L2007.7,1649.88 L2010.7,1649.92 L2013.7,1649.97 L2016.7,1650.01 L2019.7,1650.06 L2022.7,1650.11 L2025.7,1650.16 L2028.7,1650.21 L2031.7,1650.25 L2034.7,1650.30 L2037.7,1650.36 L2040.7,1650.41 L2043.7,1650.46 L2046.7,1650.51 L2049.7,1650.56 L2052.7,1650.61 L2055.7,1650.67 L2058.7,1650.72 L2061.7,1650.77 L2064.7,1650.82 L2067.7,1650.88 L2070.7,1650.93 L2073.7,1650.98 L2076.7,1651.04 L2079.7,1651.09 L2082.7,1651.14 L2085.7,1651.20 L2088.7,1651.25 L2091.7,1651.30 L2094.7,1651.35 L2097.7,1651.41 L2100.7,1651.46 L2103.7,1651.51 L2106.7,1651.56 L2109.7,1651.61 L2112.7,1651.66 L2115.7,1651.71 L2118.7,1651.76 L2121.7,1651.81 L2124.7,1651.86 L2127.7,1651.91 L2130.7,1651.95 L2133.7,1652.00 L2136.7,1652.05 L2139.7,1652.09 L2142.7,1652.14 L2145.7,1652.18 L2148.7,1652.22 L2151.7,1652.26 L2154.7,1652.30 L2157.7,1652.34 L2160.7,1652.38 L2163.7,1652.42 L2166.7,1652.46 L2169.7,1652.49 L2172.7,1652.53 L2175.7,1652.56 L2178.7,1652.59 L2181.7,1652.62 L2184.7,1652.65 L2187.7,1652.68 L2190.7,1652.71 L2193.7,1652.73 L2196.7,1652.76 L2199.7,1652.78 L2202.7,1652.80 L2205.7,1652.82 L2208.7,1652.84 L2211.7,1652.85 L2213.6,1652.86" fill="none" stroke="#0f0" stroke-width="5.4" stroke-linejoin="round" stroke-linecap="butt"/>
<rect x="206" y="2034.2" width="163" height="8" fill="#0f0"/>
<text x="383.9" y="2060.8" font-size="69" font-family="Liberation Serif, Times New Roman, serif" font-weight="bold" >VWT2</text>
<rect x="206" y="2121.6" width="163" height="8" fill="#00f"/>
<text x="383.9" y="2148.2" font-size="69" font-family="Liberation Serif, Times New Roman, serif" font-weight="bold" >VWT1</text>
<rect x="206" y="2209.0" width="163" height="8" fill="#f00"/>
<text x="383.9" y="2235.6" font-size="69" font-family="Liberation Serif, Times New Roman, serif" font-weight="bold" >VMT</text>
<rect x="206" y="2296.4" width="163" height="8" fill="#000"/>
<text x="383.9" y="2323.0" font-size="69" font-family="Liberation Serif, Times New Roman, serif" font-weight="bold" >VT</text>
<text x="459.0" y="2410.3" font-size="52.5" font-family="Liberation Serif, Times New Roman, serif" font-weight="bold" >125 °C</text>
<text x="405.8" y="2713.5" font-size="52.5" font-family="Liberation Serif, Times New Roman, serif" font-weight="bold" >112 °C</text>
<text x="1018.9" y="2590.4" font-size="52.5" font-family="Liberation Serif, Times New Roman, serif" font-weight="bold" >370 °C</text>
<text x="428.8" y="3071.0" font-size="52.5" font-family="Liberation Serif, Times New Roman, serif" font-weight="bold" >133.7 °C</text>
<text x="1844.7" y="2967.4" font-size="52.5" font-family="Liberation Serif, Times New Roman, serif" font-weight="bold" >725 °C</text>
<text x="415.4" y="3320.9" font-size="52.5" font-family="Liberation Serif, Times New Roman, serif" font-weight="bold" >113 °C</text>
<text x="929.9" y="3282.8" font-size="52.5" font-family="Liberation Serif, Times New Roman, serif" font-weight="bold" >380 °C</text>
<text x="1856.5" y="3361.3" font-size="52.5" font-family="Liberation Serif, Times New Roman, serif" font-weight="bold" >735 °C</text>
<text x="860.1" y="3700.9" font-size="76.5" font-family="Liberation Serif, Times New Roman, serif" font-weight="bold" textLength="578.5" lengthAdjust="spacing">Temperature / °C</text>
<text transform="translate(103,3017.9) rotate(-90)" x="0" y="0" font-size="77" font-family="Liberation Serif, Times New Roman, serif" font-weight="bold">TCD signal (a.u.)</text>
<text x="1118" y="3862" font-size="86" font-family="Liberation Serif, serif">(<tspan font-weight="bold">b</tspan>)</text>
</svg>
</body></html>
